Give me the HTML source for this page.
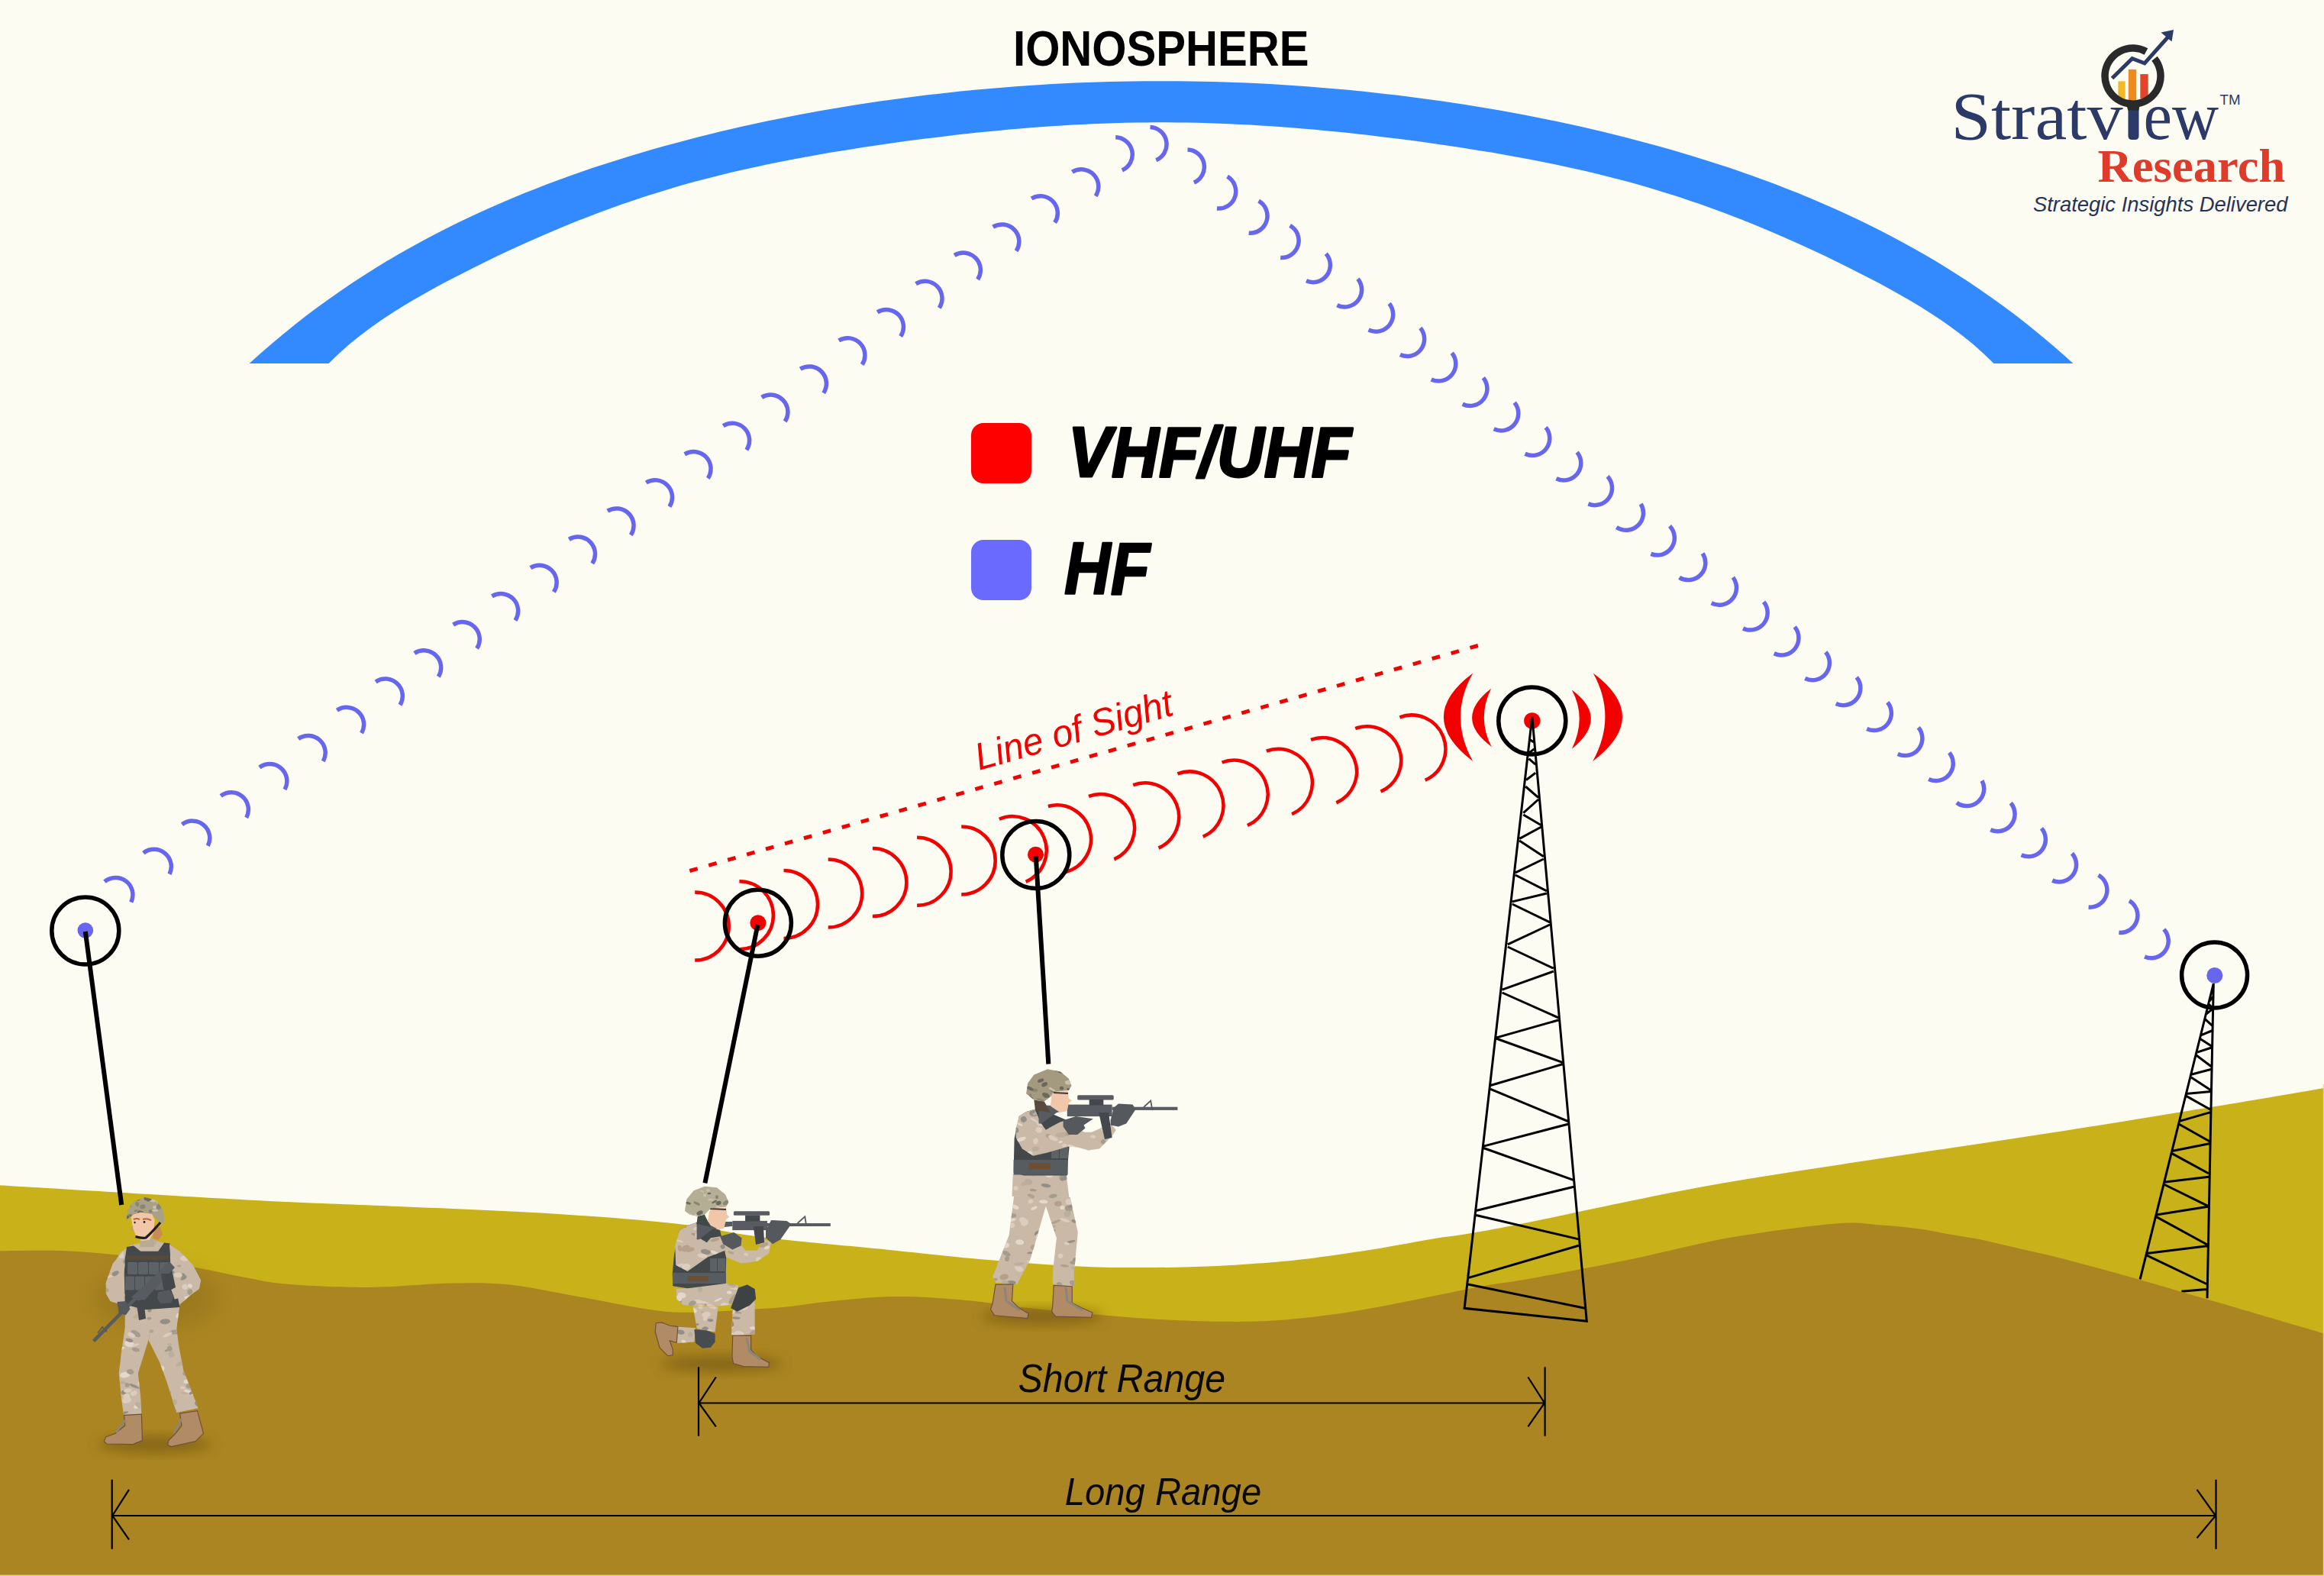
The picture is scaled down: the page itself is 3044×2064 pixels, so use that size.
<!DOCTYPE html>
<html><head><meta charset="utf-8"><title>HF vs VHF/UHF</title>
<style>html,body{margin:0;padding:0;background:#FDFCF3;overflow:hidden;width:3044px;height:2064px;} svg{display:block;}</style></head>
<body>
<svg width="3044" height="2064" viewBox="0 0 3044 2064">
<defs>
<filter id="blur8" x="-50%" y="-50%" width="200%" height="200%"><feGaussianBlur stdDeviation="8"/></filter>
<filter id="blur14" x="-50%" y="-50%" width="200%" height="200%"><feGaussianBlur stdDeviation="14"/></filter>
</defs>
<rect width="3044" height="2064" fill="#FDFCF3"/>
<path d="M326.6 476 L341.6 462.5 L356.7 449.5 L371.7 436.9 L386.7 424.8 L401.7 413.1 L416.8 401.8 L431.8 390.9 L446.8 380.4 L461.8 370.2 L476.9 360.4 L491.9 351 L506.9 341.8 L521.9 333 L537 324.4 L552 316.2 L567 308.2 L582 300.4 L597 293 L612.1 285.7 L627.1 278.7 L642.1 271.9 L657.1 265.4 L672.2 259 L687.2 252.8 L702.2 246.9 L717.2 241.1 L732.3 235.5 L747.3 230 L762.3 224.7 L777.3 219.6 L792.4 214.7 L807.4 209.9 L822.4 205.2 L837.4 200.7 L852.4 196.3 L867.5 192 L882.5 187.9 L897.5 183.9 L912.5 180 L927.6 176.2 L942.6 172.6 L957.6 169 L972.6 165.6 L987.7 162.3 L1002.7 159.1 L1017.7 156 L1032.7 153 L1047.8 150.1 L1062.8 147.3 L1077.8 144.6 L1092.8 142 L1107.8 139.5 L1122.9 137.1 L1137.9 134.8 L1152.9 132.6 L1167.9 130.4 L1183 128.4 L1198 126.5 L1213 124.6 L1228 122.9 L1243.1 121.2 L1258.1 119.6 L1273.1 118.1 L1288.1 116.7 L1303.2 115.4 L1318.2 114.2 L1333.2 113 L1348.2 112 L1363.3 111 L1378.3 110.1 L1393.3 109.3 L1408.3 108.6 L1423.3 108 L1438.4 107.5 L1453.4 107.1 L1468.4 106.7 L1483.4 106.5 L1498.5 106.3 L1513.5 106.2 L1528.5 106.2 L1543.5 106.3 L1558.6 106.5 L1573.6 106.7 L1588.6 107.1 L1603.6 107.5 L1618.7 108 L1633.7 108.6 L1648.7 109.3 L1663.7 110.1 L1678.7 111 L1693.8 112 L1708.8 113 L1723.8 114.2 L1738.8 115.4 L1753.9 116.7 L1768.9 118.1 L1783.9 119.6 L1798.9 121.2 L1814 122.9 L1829 124.6 L1844 126.5 L1859 128.4 L1874.1 130.4 L1889.1 132.6 L1904.1 134.8 L1919.1 137.1 L1934.2 139.5 L1949.2 142 L1964.2 144.6 L1979.2 147.3 L1994.2 150.1 L2009.3 153 L2024.3 156 L2039.3 159.1 L2054.3 162.3 L2069.4 165.6 L2084.4 169 L2099.4 172.6 L2114.4 176.2 L2129.5 180 L2144.5 183.9 L2159.5 187.9 L2174.5 192 L2189.6 196.3 L2204.6 200.7 L2219.6 205.2 L2234.6 209.9 L2249.6 214.7 L2264.7 219.6 L2279.7 224.7 L2294.7 230 L2309.7 235.5 L2324.8 241.1 L2339.8 246.9 L2354.8 252.8 L2369.8 259 L2384.9 265.4 L2399.9 271.9 L2414.9 278.7 L2429.9 285.7 L2445 293 L2460 300.4 L2475 308.2 L2490 316.2 L2505 324.4 L2520.1 333 L2535.1 341.8 L2550.1 351 L2565.1 360.4 L2580.2 370.2 L2595.2 380.4 L2610.2 390.9 L2625.2 401.8 L2640.3 413.1 L2655.3 424.8 L2670.3 436.9 L2685.3 449.5 L2700.4 462.5 L2715.4 476 L2715.4 476 L2611.5 476 L2597.7 462.7 L2584 450.6 L2570.3 439.5 L2556.6 429.2 L2542.9 419.5 L2529.2 410.5 L2515.4 401.8 L2501.7 393.6 L2488 385.7 L2474.3 378 L2460.6 370.6 L2446.9 363.4 L2433.1 356.4 L2419.4 349.5 L2405.7 342.7 L2392 336.1 L2378.3 329.6 L2364.6 323.3 L2350.8 317.1 L2337.1 311 L2323.4 305.1 L2309.7 299.3 L2296 293.6 L2282.3 288.1 L2268.5 282.7 L2254.8 277.5 L2241.1 272.5 L2227.4 267.6 L2213.7 262.9 L2200 258.3 L2186.2 253.9 L2172.5 249.7 L2158.8 245.6 L2145.1 241.6 L2131.4 237.8 L2117.7 234.2 L2103.9 230.7 L2090.2 227.3 L2076.5 224 L2062.8 220.9 L2049.1 217.9 L2035.4 215 L2021.6 212.2 L2007.9 209.5 L1994.2 206.9 L1980.5 204.4 L1966.8 202 L1953.1 199.6 L1939.3 197.4 L1925.6 195.2 L1911.9 193 L1898.2 191 L1884.5 189 L1870.8 187 L1857.1 185.1 L1843.3 183.3 L1829.6 181.6 L1815.9 179.9 L1802.2 178.2 L1788.5 176.6 L1774.8 175.1 L1761 173.6 L1747.3 172.2 L1733.6 170.9 L1719.9 169.6 L1706.2 168.4 L1692.5 167.3 L1678.7 166.3 L1665 165.3 L1651.3 164.4 L1637.6 163.6 L1623.9 162.9 L1610.2 162.2 L1596.4 161.7 L1582.7 161.2 L1569 160.8 L1555.3 160.6 L1541.6 160.4 L1527.9 160.3 L1514.1 160.3 L1500.4 160.4 L1486.7 160.6 L1473 160.8 L1459.3 161.2 L1445.6 161.7 L1431.8 162.2 L1418.1 162.9 L1404.4 163.6 L1390.7 164.4 L1377 165.3 L1363.3 166.3 L1349.5 167.3 L1335.8 168.4 L1322.1 169.6 L1308.4 170.9 L1294.7 172.2 L1281 173.6 L1267.2 175.1 L1253.5 176.6 L1239.8 178.2 L1226.1 179.9 L1212.4 181.6 L1198.7 183.3 L1184.9 185.1 L1171.2 187 L1157.5 189 L1143.8 191 L1130.1 193 L1116.4 195.2 L1102.7 197.4 L1088.9 199.6 L1075.2 202 L1061.5 204.4 L1047.8 206.9 L1034.1 209.5 L1020.4 212.2 L1006.6 215 L992.9 217.9 L979.2 220.9 L965.5 224 L951.8 227.3 L938.1 230.7 L924.3 234.2 L910.6 237.8 L896.9 241.6 L883.2 245.6 L869.5 249.7 L855.8 253.9 L842 258.3 L828.3 262.9 L814.6 267.6 L800.9 272.5 L787.2 277.5 L773.5 282.7 L759.7 288.1 L746 293.6 L732.3 299.3 L718.6 305.1 L704.9 311 L691.2 317.1 L677.4 323.3 L663.7 329.6 L650 336.1 L636.3 342.7 L622.6 349.5 L608.9 356.4 L595.1 363.4 L581.4 370.6 L567.7 378 L554 385.7 L540.3 393.6 L526.6 401.8 L512.8 410.5 L499.1 419.5 L485.4 429.2 L471.7 439.5 L458 450.6 L444.3 462.7 L430.5 476 L430.5 476 Z" fill="#338AFE"/>
<text x="1327" y="85.5" font-family="Liberation Sans" font-weight="bold" font-size="65" textLength="387.5" lengthAdjust="spacingAndGlyphs" fill="#000">IONOSPHERE</text>
<!-- legend -->
<rect x="1272" y="554" width="79" height="79" rx="16" fill="#FF0000"/>
<rect x="1272" y="707" width="79" height="79" rx="16" fill="#6A6AFF"/>
<text x="1399" y="623.5" font-family="Liberation Sans" font-weight="bold" font-style="italic" font-size="92" textLength="371" lengthAdjust="spacingAndGlyphs" fill="#000" stroke="#000" stroke-width="3" stroke-linejoin="round">VHF/UHF</text>
<text x="1394" y="777.5" font-family="Liberation Sans" font-weight="bold" font-style="italic" font-size="96" textLength="112" lengthAdjust="spacingAndGlyphs" fill="#000" stroke="#000" stroke-width="2.5" stroke-linejoin="round">HF</text>
<!-- ground -->
<path d="M0 1552.3 C14.3 1553.2 28.7 1554.1 86 1557.5 C143.3 1560.9 272.3 1568.8 344 1572.5 C415.7 1576.2 458.6 1577.3 516 1579.8 C573.4 1582.3 638.2 1584.9 688.5 1587.6 C738.8 1590.3 781.8 1593.3 817.6 1596.2 C853.5 1599.1 873.2 1600.8 903.6 1604.8 C934 1608.8 955.3 1615 1000 1620.5 C1044.7 1626 1121.8 1632.7 1172 1637.7 C1222.2 1642.7 1258 1647 1301 1650.6 C1344 1654.2 1387 1657.8 1430 1659.2 C1473 1660.6 1519.2 1660.2 1559 1659.2 C1598.8 1658.2 1639 1655.2 1668.8 1652.9 C1698.6 1650.6 1714.8 1648.2 1737.7 1645.2 C1760.7 1642.2 1783.5 1638.6 1806.5 1634.9 C1829.5 1631.2 1855.3 1626.1 1875.4 1622.8 C1895.5 1619.5 1906.2 1618.7 1927 1615.1 C1947.8 1611.5 1950.4 1611.3 2000 1601.3 C2049.6 1591.3 2149.7 1568.9 2224.6 1555.2 C2299.5 1541.5 2374.3 1530.9 2449.2 1519.3 C2524.1 1507.7 2598.9 1497.2 2673.8 1485.6 C2748.7 1474 2836.8 1459.7 2898.5 1449.6 C2960.2 1439.5 3019.8 1429.1 3044 1425 L3044 2064 L0 2064 Z" fill="#C9B119"/>
<!-- small tower (behind brown hill) -->
<path d="M2899.3 1288 L2803.1 1675.3 M2899.3 1288 L2891 1700.2 M2897 1296 L2899 1300 M2899 1305 L2894 1311 M2893 1315 L2899 1321 M2898.6 1320.9 L2888.5 1329.2 M2888.5 1334.9 L2898 1343.7 M2898 1349.5 L2881.5 1356.4 M2881.5 1360.2 L2897.4 1370.4 M2897.4 1371.7 L2876.4 1378.6 M2876.4 1381.8 L2896.7 1397 M2896.7 1400.2 L2870.1 1407.2 M2870.1 1411 L2896.1 1428.1 M2896.1 1429.4 L2863.1 1432.6 M2863.1 1435.1 L2895.4 1453.3 M2894.5 1456.9 L2854.6 1468.4 M2853.7 1472 L2894.5 1495 M2893.7 1497.7 L2844.8 1507.5 M2843.9 1510.1 L2892.8 1536.8 M2892.8 1541.2 L2834.2 1548.3 M2834.2 1551 L2891.9 1579.4 M2891.9 1580.3 L2824.4 1591 M2824.4 1593.6 L2891 1630 M2891 1631.8 L2812 1641.6 M2812 1644.2 L2890.1 1681.5 M2890.1 1688.6 L2857.3 1691.3" stroke="#000" stroke-width="3" fill="none"/>
<path d="M0 1638.3 C14.3 1638.3 57.3 1637.1 86 1638.3 C114.7 1639.5 144.7 1642.3 172 1645.7 C199.3 1649.1 224.1 1654 250 1658.8 C275.9 1663.6 306 1670.4 327.5 1674.3 C349 1678.2 353.3 1680.1 379.1 1682 C404.9 1683.9 448 1686.1 482.4 1685.9 C516.8 1685.7 555.6 1681.4 585.7 1680.7 C615.8 1680 637.3 1679.6 663.1 1682 C688.9 1684.4 709.5 1689.4 740.6 1694.9 C771.8 1700.4 822.1 1711 850 1715 C877.9 1719 884.6 1718.8 907.7 1718.7 C930.8 1718.6 968.2 1715.7 988.6 1714.5 C1009 1713.3 1013.8 1713.2 1030 1711.5 C1046.2 1709.8 1062.3 1706.7 1086 1704.4 C1109.7 1702.2 1143.3 1698.4 1172 1698 C1200.7 1697.6 1230.4 1699.9 1258 1702.2 C1285.6 1704.5 1310.1 1708.9 1337.7 1711.9 C1365.3 1715 1395.1 1717.9 1423.8 1720.5 C1452.5 1723.1 1480.4 1725.7 1509.8 1727.4 C1539.2 1729.1 1573.5 1730.5 1600 1730.8 C1626.5 1731.1 1645.8 1730.9 1668.8 1729.5 C1691.8 1728.1 1714.8 1725.6 1737.7 1722.6 C1760.7 1719.6 1783.5 1715.7 1806.5 1711.5 C1829.5 1707.3 1852.5 1702.3 1875.4 1697.7 C1898.4 1693.1 1923.4 1687.6 1944.2 1683.9 C1965 1680.2 1968.2 1681 2000 1675.3 C2031.8 1669.6 2089.9 1658.7 2134.8 1649.5 C2179.7 1640.3 2224.6 1628.1 2269.5 1620.3 C2314.4 1612.5 2371.8 1605 2404.3 1602.4 C2436.8 1599.8 2445.8 1603.3 2464.5 1604.5 C2483.2 1605.7 2501.1 1607.7 2516.2 1609.7 C2531.3 1611.8 2542 1614.5 2554.9 1616.8 C2567.8 1619.1 2580.7 1620.7 2593.6 1623.3 C2606.5 1625.9 2614.6 1628.2 2632.3 1632.3 C2650 1636.4 2671.4 1640.8 2700 1648.1 C2728.6 1655.4 2771.5 1667.2 2803.6 1676.2 C2835.7 1685.2 2852.3 1690.4 2892.4 1702.1 C2932.5 1713.8 3018.7 1739.1 3044 1746.5 L3044 2064 L0 2064 Z" fill="#AB8522"/>
<rect x="3042.8" y="1420" width="1.2" height="644" fill="#E6D38A"/>
<rect x="0" y="2062.6" width="3044" height="1.4" fill="#E6D38A"/>
<!-- HF waves -->
<path d="M137 1154.6 A22.5 22.5 0 0 1 171.7 1181.6 M187.8 1117.2 A22.5 22.5 0 0 1 222 1144.7 M238.5 1079.8 A22.5 22.5 0 0 1 272.3 1107.8 M289.2 1042.4 A22.5 22.5 0 0 1 322.7 1070.9 M339.9 1005 A22.5 22.5 0 0 1 373 1034 M390.7 967.6 A22.5 22.5 0 0 1 423.3 997 M441.4 930.3 A22.5 22.5 0 0 1 473.6 960.1 M492.1 892.9 A22.5 22.5 0 0 1 524 923.2 M542.9 855.5 A22.5 22.5 0 0 1 574.3 886.2 M593.6 818.1 A22.5 22.5 0 0 1 624.6 849.3 M644.4 780.8 A22.5 22.5 0 0 1 674.9 812.4 M694.9 743.6 A22.5 22.5 0 0 1 725.4 775.2 M745.3 706.4 A22.5 22.5 0 0 1 775.8 738 M795.8 669.2 A22.5 22.5 0 0 1 826.3 700.8 M846.3 632 A22.5 22.5 0 0 1 876.8 663.6 M896.8 594.8 A22.5 22.5 0 0 1 927.3 626.4 M947.2 557.6 A22.5 22.5 0 0 1 977.8 589.2 M997.7 520.4 A22.5 22.5 0 0 1 1028.2 552 M1048.2 483.2 A22.5 22.5 0 0 1 1078.7 514.8 M1098.7 446 A22.5 22.5 0 0 1 1129.2 477.6 M1149.2 408.8 A22.5 22.5 0 0 1 1179.7 440.4 M1199.6 371.6 A22.5 22.5 0 0 1 1230.2 403.2 M1250.1 334.4 A22.5 22.5 0 0 1 1280.6 366 M1300.6 297.2 A22.5 22.5 0 0 1 1331.1 328.8 M1351.1 260 A22.5 22.5 0 0 1 1381.6 291.6 M1404.4 225.2 A22.5 22.5 0 0 1 1435 256.8 M1461.2 179.8 A22.5 22.5 0 0 1 1469.8 222.9 M1506.5 166.5 A22.5 22.5 0 0 1 1514.3 209.7 M1555.5 196 A22.5 22.5 0 0 1 1563.9 239.1 M1607.6 231.2 A22.5 22.5 0 0 1 1594 273 M1648.6 263.2 A22.5 22.5 0 0 1 1635.7 305.2 M1689.6 295.3 A22.5 22.5 0 0 1 1677.2 337.4 M1736.8 332.3 A22.5 22.5 0 0 1 1711 367.8 M1778.5 365.2 A22.5 22.5 0 0 1 1751.4 399.8 M1819.6 397.5 A22.5 22.5 0 0 1 1792.6 432.1 M1860.4 429.6 A22.5 22.5 0 0 1 1834 464.6 M1901.7 462.3 A22.5 22.5 0 0 1 1874.7 496.9 M1942.8 494.7 A22.5 22.5 0 0 1 1915.7 529.3 M1983.7 527.2 A22.5 22.5 0 0 1 1956.7 561.8 M2024.7 559.7 A22.5 22.5 0 0 1 1997.6 594.3 M2065.6 592.2 A22.5 22.5 0 0 1 2038.5 626.8 M2105.6 623.9 A22.5 22.5 0 0 1 2080.4 659.9 M2149.1 660 A22.5 22.5 0 0 1 2117.4 690.5 M2187 688.9 A22.5 22.5 0 0 1 2162.4 725.4 M2230.1 724.7 A22.5 22.5 0 0 1 2199.6 756.3 M2269.9 756.2 A22.5 22.5 0 0 1 2241.7 789.8 M2310.1 788.3 A22.5 22.5 0 0 1 2283.1 822.9 M2350.7 821.1 A22.5 22.5 0 0 1 2323.7 855.8 M2391.3 854 A22.5 22.5 0 0 1 2364.3 888.6 M2431.8 886.9 A22.5 22.5 0 0 1 2404.8 921.5 M2472.3 919.8 A22.5 22.5 0 0 1 2445.3 954.4 M2512.8 952.8 A22.5 22.5 0 0 1 2485.8 987.4 M2553.2 985.8 A22.5 22.5 0 0 1 2526.2 1020.4 M2596 1022.4 A22.5 22.5 0 0 1 2562.9 1051.2 M2633.7 1051.6 A22.5 22.5 0 0 1 2607.3 1086.7 M2674 1084.7 A22.5 22.5 0 0 1 2647.6 1119.8 M2714 1117.6 A22.5 22.5 0 0 1 2688.2 1153.1 M2748.5 1146.1 A22.5 22.5 0 0 1 2735.6 1188.1 M2789 1179.6 A22.5 22.5 0 0 1 2775.4 1221.3 M2834.3 1217 A22.5 22.5 0 0 1 2809.1 1253" stroke="#6666EE" stroke-width="5.5" fill="none"/>
<!-- red waves -->
<path d="M910.2 1168.6 A44.5 44.5 0 0 1 910.2 1257.6 M968.4 1154.2 A44.5 44.5 0 0 1 968.4 1243.2 M1026.5 1139.9 A44.5 44.5 0 0 1 1026.5 1228.9 M1084.7 1125.5 A44.5 44.5 0 0 1 1084.7 1214.5 M1142.9 1111.1 A44.5 44.5 0 0 1 1142.9 1200.1 M1201.1 1096.8 A44.5 44.5 0 0 1 1201.1 1185.8 M1259.2 1082.4 A44.5 44.5 0 0 1 1259.2 1171.4 M1308.8 1072.7 A44.5 44.5 0 0 1 1343.6 1154.7 M1372.9 1056 A44.5 44.5 0 0 1 1396 1142 M1426 1042.9 A44.5 44.5 0 0 1 1459.3 1125.4 M1484.2 1028.1 A44.5 44.5 0 0 1 1517.5 1110.6 M1542.4 1013.3 A44.5 44.5 0 0 1 1575.7 1095.8 M1600.6 998.5 A44.5 44.5 0 0 1 1633.9 1081 M1658.8 983.7 A44.5 44.5 0 0 1 1692.1 1066.2 M1717 968.9 A44.5 44.5 0 0 1 1750.3 1051.4 M1775.2 954.1 A44.5 44.5 0 0 1 1808.5 1036.6 M1833.4 939.3 A44.5 44.5 0 0 1 1866.7 1021.8" stroke="#F30000" stroke-width="4.5" fill="none"/>
<path d="M1929.3 881.5 Q1852.5 938.7 1929.3 997.1 Q1896.7 938.7 1929.3 881.5 Z M1953.1 901.8 Q1902.8 940.6 1953.7 977.9 Q1934.2 940.6 1953.1 901.8 Z M2058.8 903.6 Q2108.8 940.4 2058.8 980.8 Q2078.6 940.4 2058.8 903.6 Z M2086.7 881.5 Q2163.6 938.7 2086.1 997.1 Q2118.4 938.7 2086.7 881.5 Z" fill="#F30000"/>
<!-- dotted line of sight -->
<line x1="903.3" y1="1140.5" x2="1935.9" y2="845.5" stroke="#F30000" stroke-width="5" stroke-dasharray="10.8 15.13"/>
<text transform="translate(1282.6 1009.1) rotate(-15.9)" font-family="Liberation Sans" font-style="italic" font-size="50" textLength="267" lengthAdjust="spacingAndGlyphs" fill="#F30000">Line of Sight</text>
<!-- circles & lines -->
<g stroke="#000" stroke-width="5.5" fill="none">
<circle cx="111.8" cy="1219" r="44"/>
<circle cx="992.9" cy="1208.7" r="43.5"/>
<circle cx="1356.8" cy="1119.5" r="44"/>
<circle cx="2006.8" cy="943.9" r="44"/>
<circle cx="2900.6" cy="1277" r="43"/>
</g>
<g fill="#6666EE"><circle cx="111.8" cy="1218.5" r="10.3"/><circle cx="2900.8" cy="1277.5" r="10.5"/></g>
<g fill="#F30000"><circle cx="992.9" cy="1208.7" r="10.5"/><circle cx="1356.5" cy="1119.2" r="10.5"/><circle cx="2006.8" cy="943.9" r="10.7"/></g>
<!-- big tower -->
<path d="M2006.8 939 L1918.1 1713.3 L2078.3 1730.2 Z M2003.6 968.6 L2009.4 972.1 M2009.4 980.8 L2003.6 985.5 M2002.5 993.6 L2011.2 1001.2 M2011.2 1012.2 L1999 1021.5 M1998.2 1030 L2015 1044.6 M2015 1047 L1995.3 1064.6 M1995.3 1067 L2018.7 1080.8 M2018.7 1083 L1990.2 1098.4 M1990.2 1101 L2021.8 1121.8 M2021.8 1125 L1984.9 1142.8 M1984.9 1146 L2025.9 1166.9 M2025.9 1170 L1980.8 1180.9 M1980.8 1184 L2030 1207.9 M2030 1211 L1974.8 1236.9 M1974.8 1240 L2034.8 1268.2 M2034.8 1272 L1967.6 1296.2 M1967.6 1300 L2041.1 1332.8 M2041.1 1336 L1960.3 1358.9 M1959.6 1360 L2046.4 1391.4 M2046.4 1393.8 L1952.4 1421.5 M1952.4 1426.3 L2053.7 1468.5 M2053.7 1472.2 L1943.2 1501.1 M1943.2 1503.5 L2061.4 1545.7 M2061.4 1554.2 L1933.5 1585.5 M1933.5 1591.5 L2067.7 1622.9 M2067.7 1631.3 L1922.9 1673.6 M1922.9 1682 L2075.8 1713.3" stroke="#000" stroke-width="3" fill="none" stroke-linejoin="miter"/>
<g stroke="#000" stroke-width="6" stroke-linecap="butt">
<line x1="111.8" y1="1220" x2="159.2" y2="1578"/>
<line x1="992.5" y1="1211" x2="923.4" y2="1549.4"/>
<line x1="1356.8" y1="1121" x2="1373.3" y2="1393.5"/>
</g>
<!-- soldiers -->
<g>
<ellipse cx="203" cy="1892" rx="75" ry="10" fill="#6A500C" opacity="0.6" filter="url(#blur8)"/>
<ellipse cx="205" cy="1700" rx="80" ry="40" fill="#7E6414" opacity="0.35" filter="url(#blur14)"/>
<clipPath id="cl1"><polygon points="163.7,1739.1 159.1,1770.0 155.7,1798.5 159.1,1832.8 162.0,1853.3 185.4,1852.8 184.2,1829.4 180.8,1798.5 194.5,1755.1 198.0,1739.0"/><polygon points="194.5,1755.1 209.4,1784.8 218.5,1809.9 231.1,1849.9 259.6,1844.2 240.2,1794.0 234.5,1764.3 231.1,1739.1 198.0,1739.0"/><polygon points="163.7,1707.0 163.7,1741.0 231.1,1741.0 235.0,1707.0"/></clipPath><polygon points="163.7,1739.1 159.1,1770.0 155.7,1798.5 159.1,1832.8 162.0,1853.3 185.4,1852.8 184.2,1829.4 180.8,1798.5 194.5,1755.1 198.0,1739.0" fill="#C9B9A6"/><polygon points="194.5,1755.1 209.4,1784.8 218.5,1809.9 231.1,1849.9 259.6,1844.2 240.2,1794.0 234.5,1764.3 231.1,1739.1 198.0,1739.0" fill="#C9B9A6"/><polygon points="163.7,1707.0 163.7,1741.0 231.1,1741.0 235.0,1707.0" fill="#C9B9A6"/><g clip-path="url(#cl1)"><ellipse cx="202.7" cy="1788.9" rx="6.7" ry="2.6" transform="rotate(21 202.7 1788.9)" fill="#B5A08C"/><ellipse cx="175.4" cy="1824.6" rx="4.6" ry="3.1" transform="rotate(-24 175.4 1824.6)" fill="#DCCDBE"/><ellipse cx="187.2" cy="1720.3" rx="6.1" ry="3.3" transform="rotate(6 187.2 1720.3)" fill="#DCCDBE"/><ellipse cx="196.9" cy="1773.3" rx="5.8" ry="3.2" transform="rotate(-29 196.9 1773.3)" fill="#B5A08C"/><ellipse cx="210.6" cy="1715.7" rx="3.4" ry="2.0" transform="rotate(17 210.6 1715.7)" fill="#DCCDBE"/><ellipse cx="189.6" cy="1793.5" rx="3.4" ry="1.9" transform="rotate(-0 189.6 1793.5)" fill="#A59C8E"/><ellipse cx="224.5" cy="1773.9" rx="3.8" ry="4.2" transform="rotate(-25 224.5 1773.9)" fill="#BBAE9C"/><ellipse cx="182.1" cy="1817.9" rx="4.8" ry="1.3" transform="rotate(16 182.1 1817.9)" fill="#B5A08C"/><ellipse cx="197.3" cy="1830.9" rx="4.2" ry="4.1" transform="rotate(11 197.3 1830.9)" fill="#BBAE9C"/><ellipse cx="177.9" cy="1842.6" rx="2.7" ry="2.4" transform="rotate(-6 177.9 1842.6)" fill="#E4D8CA"/><ellipse cx="163.3" cy="1799.1" rx="6.0" ry="2.0" transform="rotate(-11 163.3 1799.1)" fill="#DCCDBE"/><ellipse cx="157.3" cy="1767.0" rx="6.7" ry="1.6" transform="rotate(-24 157.3 1767.0)" fill="#E4D8CA"/><ellipse cx="161.9" cy="1823.6" rx="3.3" ry="2.9" transform="rotate(1 161.9 1823.6)" fill="#948F84"/><ellipse cx="258.1" cy="1819.6" rx="4.4" ry="2.4" transform="rotate(-5 258.1 1819.6)" fill="#948F84"/><ellipse cx="177.8" cy="1746.5" rx="6.9" ry="3.6" transform="rotate(30 177.8 1746.5)" fill="#A59C8E"/><ellipse cx="157.7" cy="1734.4" rx="7.0" ry="3.0" transform="rotate(-24 157.7 1734.4)" fill="#B5A08C"/><ellipse cx="258.5" cy="1738.2" rx="3.7" ry="3.5" transform="rotate(20 258.5 1738.2)" fill="#A59C8E"/><ellipse cx="195.8" cy="1717.9" rx="3.4" ry="3.1" transform="rotate(6 195.8 1717.9)" fill="#DCCDBE"/><ellipse cx="194.3" cy="1773.3" rx="6.8" ry="2.7" transform="rotate(-22 194.3 1773.3)" fill="#B5A08C"/><ellipse cx="195.8" cy="1798.8" rx="3.9" ry="1.9" transform="rotate(-15 195.8 1798.8)" fill="#B5A08C"/><ellipse cx="175.4" cy="1815.2" rx="6.7" ry="1.8" transform="rotate(23 175.4 1815.2)" fill="#948F84"/><ellipse cx="218.4" cy="1768.7" rx="3.0" ry="1.4" transform="rotate(-16 218.4 1768.7)" fill="#A59C8E"/><ellipse cx="228.9" cy="1744.6" rx="6.2" ry="3.0" transform="rotate(1 228.9 1744.6)" fill="#A59C8E"/><ellipse cx="252.2" cy="1850.0" rx="3.1" ry="2.7" transform="rotate(21 252.2 1850.0)" fill="#E4D8CA"/><ellipse cx="219.5" cy="1748.0" rx="6.6" ry="1.9" transform="rotate(-26 219.5 1748.0)" fill="#DCCDBE"/><ellipse cx="198.4" cy="1743.4" rx="2.7" ry="2.1" transform="rotate(4 198.4 1743.4)" fill="#B5A08C"/><ellipse cx="169.4" cy="1760.0" rx="6.5" ry="4.1" transform="rotate(14 169.4 1760.0)" fill="#E4D8CA"/><ellipse cx="209.9" cy="1845.5" rx="5.2" ry="4.0" transform="rotate(25 209.9 1845.5)" fill="#948F84"/><ellipse cx="228.5" cy="1847.9" rx="2.6" ry="3.1" transform="rotate(-26 228.5 1847.9)" fill="#948F84"/><ellipse cx="188.0" cy="1727.0" rx="2.8" ry="2.6" transform="rotate(14 188.0 1727.0)" fill="#A59C8E"/><ellipse cx="249.2" cy="1814.8" rx="5.7" ry="3.6" transform="rotate(-9 249.2 1814.8)" fill="#A59C8E"/><ellipse cx="226.9" cy="1838.8" rx="6.4" ry="2.5" transform="rotate(-28 226.9 1838.8)" fill="#BBAE9C"/><ellipse cx="207.6" cy="1709.1" rx="5.5" ry="2.4" transform="rotate(7 207.6 1709.1)" fill="#DCCDBE"/><ellipse cx="164.0" cy="1800.5" rx="7.0" ry="3.8" transform="rotate(-10 164.0 1800.5)" fill="#E4D8CA"/><ellipse cx="252.8" cy="1808.6" rx="4.6" ry="2.6" transform="rotate(-25 252.8 1808.6)" fill="#B5A08C"/><ellipse cx="233.6" cy="1711.4" rx="5.2" ry="2.7" transform="rotate(27 233.6 1711.4)" fill="#DCCDBE"/><ellipse cx="167.4" cy="1821.1" rx="5.5" ry="2.7" transform="rotate(-8 167.4 1821.1)" fill="#DCCDBE"/><ellipse cx="170.6" cy="1796.5" rx="4.8" ry="3.5" transform="rotate(10 170.6 1796.5)" fill="#A59C8E"/><ellipse cx="201.6" cy="1837.5" rx="4.0" ry="3.2" transform="rotate(8 201.6 1837.5)" fill="#DCCDBE"/><ellipse cx="239.2" cy="1817.4" rx="3.4" ry="1.9" transform="rotate(5 239.2 1817.4)" fill="#DCCDBE"/><ellipse cx="188.6" cy="1726.9" rx="4.7" ry="3.7" transform="rotate(-28 188.6 1726.9)" fill="#BBAE9C"/><ellipse cx="162.4" cy="1850.4" rx="6.2" ry="1.6" transform="rotate(-13 162.4 1850.4)" fill="#948F84"/><ellipse cx="177.9" cy="1767.6" rx="5.3" ry="2.7" transform="rotate(13 177.9 1767.6)" fill="#A59C8E"/><ellipse cx="243.2" cy="1798.4" rx="3.9" ry="3.7" transform="rotate(22 243.2 1798.4)" fill="#A59C8E"/><ellipse cx="160.0" cy="1810.7" rx="5.1" ry="2.2" transform="rotate(4 160.0 1810.7)" fill="#BBAE9C"/><ellipse cx="222.3" cy="1766.3" rx="3.4" ry="3.5" transform="rotate(-16 222.3 1766.3)" fill="#A59C8E"/><ellipse cx="170.3" cy="1713.9" rx="5.3" ry="2.6" transform="rotate(2 170.3 1713.9)" fill="#E4D8CA"/><ellipse cx="222.2" cy="1760.9" rx="2.9" ry="1.8" transform="rotate(-1 222.2 1760.9)" fill="#BBAE9C"/><ellipse cx="174.3" cy="1708.6" rx="4.6" ry="3.4" transform="rotate(-16 174.3 1708.6)" fill="#DCCDBE"/><ellipse cx="236.6" cy="1786.0" rx="6.8" ry="2.7" transform="rotate(-20 236.6 1786.0)" fill="#BBAE9C"/><ellipse cx="243.9" cy="1809.4" rx="3.5" ry="2.5" transform="rotate(-7 243.9 1809.4)" fill="#E4D8CA"/><ellipse cx="202.5" cy="1735.8" rx="6.5" ry="1.3" transform="rotate(4 202.5 1735.8)" fill="#B5A08C"/><ellipse cx="247.1" cy="1823.6" rx="6.7" ry="2.6" transform="rotate(29 247.1 1823.6)" fill="#E4D8CA"/><ellipse cx="166.0" cy="1833.7" rx="6.1" ry="4.0" transform="rotate(-17 166.0 1833.7)" fill="#DCCDBE"/><ellipse cx="249.2" cy="1850.4" rx="6.9" ry="2.8" transform="rotate(26 249.2 1850.4)" fill="#BBAE9C"/><ellipse cx="182.9" cy="1812.1" rx="2.6" ry="2.7" transform="rotate(-4 182.9 1812.1)" fill="#DCCDBE"/><ellipse cx="212.9" cy="1819.4" rx="4.7" ry="1.3" transform="rotate(22 212.9 1819.4)" fill="#BBAE9C"/><ellipse cx="200.3" cy="1712.1" rx="4.9" ry="3.3" transform="rotate(-2 200.3 1712.1)" fill="#DCCDBE"/><ellipse cx="259.6" cy="1838.8" rx="4.8" ry="3.2" transform="rotate(27 259.6 1838.8)" fill="#948F84"/><ellipse cx="206.9" cy="1845.9" rx="2.9" ry="1.9" transform="rotate(4 206.9 1845.9)" fill="#B5A08C"/><ellipse cx="242.1" cy="1789.2" rx="3.2" ry="2.8" transform="rotate(-15 242.1 1789.2)" fill="#B5A08C"/><ellipse cx="225.4" cy="1846.7" rx="6.4" ry="3.0" transform="rotate(21 225.4 1846.7)" fill="#A59C8E"/><ellipse cx="256.3" cy="1783.7" rx="5.1" ry="1.8" transform="rotate(-23 256.3 1783.7)" fill="#B5A08C"/><ellipse cx="156.2" cy="1762.2" rx="4.9" ry="1.4" transform="rotate(3 156.2 1762.2)" fill="#948F84"/><ellipse cx="258.5" cy="1724.8" rx="2.9" ry="1.7" transform="rotate(-2 258.5 1724.8)" fill="#B5A08C"/><ellipse cx="251.4" cy="1824.1" rx="4.3" ry="2.0" transform="rotate(-22 251.4 1824.1)" fill="#948F84"/><ellipse cx="200.8" cy="1826.3" rx="6.6" ry="2.7" transform="rotate(-23 200.8 1826.3)" fill="#A59C8E"/><ellipse cx="199.3" cy="1711.3" rx="3.7" ry="3.3" transform="rotate(-28 199.3 1711.3)" fill="#DCCDBE"/><ellipse cx="171.9" cy="1708.7" rx="3.8" ry="3.4" transform="rotate(7 171.9 1708.7)" fill="#DCCDBE"/><ellipse cx="166.6" cy="1813.9" rx="3.1" ry="2.8" transform="rotate(13 166.6 1813.9)" fill="#A59C8E"/><ellipse cx="228.6" cy="1835.6" rx="2.6" ry="3.1" transform="rotate(2 228.6 1835.6)" fill="#BBAE9C"/><ellipse cx="172.3" cy="1736.9" rx="5.3" ry="3.1" transform="rotate(-17 172.3 1736.9)" fill="#B5A08C"/><ellipse cx="212.1" cy="1792.8" rx="3.1" ry="3.9" transform="rotate(19 212.1 1792.8)" fill="#E4D8CA"/><ellipse cx="249.5" cy="1753.2" rx="3.9" ry="4.0" transform="rotate(17 249.5 1753.2)" fill="#DCCDBE"/><ellipse cx="175.9" cy="1721.2" rx="6.5" ry="1.6" transform="rotate(-14 175.9 1721.2)" fill="#DCCDBE"/><ellipse cx="165.8" cy="1828.7" rx="4.4" ry="3.6" transform="rotate(-18 165.8 1828.7)" fill="#DCCDBE"/><ellipse cx="220.9" cy="1823.9" rx="2.9" ry="2.9" transform="rotate(25 220.9 1823.9)" fill="#A59C8E"/><ellipse cx="256.3" cy="1723.9" rx="4.8" ry="3.5" transform="rotate(30 256.3 1723.9)" fill="#B5A08C"/><ellipse cx="242.2" cy="1824.5" rx="4.7" ry="1.3" transform="rotate(3 242.2 1824.5)" fill="#BBAE9C"/><ellipse cx="209.2" cy="1790.2" rx="3.2" ry="1.8" transform="rotate(-20 209.2 1790.2)" fill="#DCCDBE"/><ellipse cx="172.1" cy="1748.4" rx="5.5" ry="3.0" transform="rotate(27 172.1 1748.4)" fill="#DCCDBE"/><ellipse cx="203.7" cy="1818.9" rx="4.0" ry="2.6" transform="rotate(-9 203.7 1818.9)" fill="#B5A08C"/><ellipse cx="177.5" cy="1761.6" rx="5.4" ry="1.4" transform="rotate(-19 177.5 1761.6)" fill="#DCCDBE"/><ellipse cx="202.9" cy="1815.2" rx="4.3" ry="1.8" transform="rotate(-24 202.9 1815.2)" fill="#DCCDBE"/><ellipse cx="238.0" cy="1754.4" rx="2.9" ry="3.7" transform="rotate(25 238.0 1754.4)" fill="#BBAE9C"/><ellipse cx="253.3" cy="1790.3" rx="3.4" ry="3.0" transform="rotate(18 253.3 1790.3)" fill="#A59C8E"/><ellipse cx="182.5" cy="1840.3" rx="5.8" ry="3.5" transform="rotate(26 182.5 1840.3)" fill="#BBAE9C"/><ellipse cx="169.5" cy="1755.3" rx="4.9" ry="2.3" transform="rotate(16 169.5 1755.3)" fill="#948F84"/><ellipse cx="197.9" cy="1812.7" rx="2.8" ry="2.3" transform="rotate(-24 197.9 1812.7)" fill="#948F84"/><ellipse cx="248.0" cy="1851.9" rx="6.6" ry="1.4" transform="rotate(27 248.0 1851.9)" fill="#A59C8E"/></g>
<polygon points="162.5,1853.3 163.7,1867.0 151.1,1877.3 138.6,1881.9 136.3,1887.6 139.7,1891.0 174.0,1891.6 186.5,1886.5 185.4,1852.2" fill="#B08B66" stroke="#6F5139" stroke-width="1.2"/>
<polygon points="235.6,1851.1 237.9,1867.0 229.9,1877.3 220.8,1886.5 219.6,1892.2 224.2,1894.5 256.2,1887.6 266.5,1877.3 258.5,1847.6" fill="#B08B66" stroke="#6F5139" stroke-width="1.2"/>
<path d="M164 1860 L152 1876 M238 1858 L228 1876" stroke="#8C857A" stroke-width="3"/>
<clipPath id="cl2"><polygon points="171.1,1630.8 158.0,1640.0 147.7,1657.1 139.7,1679.9 138.6,1693.6 144.3,1703.9 154.5,1707.3 163.7,1707.3 166.0,1740.0 231.1,1740.0 235.6,1708.5 247.0,1698.2 260.8,1687.9 263.0,1676.5 252.8,1657.1 235.6,1640.0 220.8,1629.7 201.4,1624.0"/></clipPath><polygon points="171.1,1630.8 158.0,1640.0 147.7,1657.1 139.7,1679.9 138.6,1693.6 144.3,1703.9 154.5,1707.3 163.7,1707.3 166.0,1740.0 231.1,1740.0 235.6,1708.5 247.0,1698.2 260.8,1687.9 263.0,1676.5 252.8,1657.1 235.6,1640.0 220.8,1629.7 201.4,1624.0" fill="#C9B9A6"/><g clip-path="url(#cl2)"><ellipse cx="197.6" cy="1700.3" rx="5.5" ry="1.7" transform="rotate(30 197.6 1700.3)" fill="#DCCDBE"/><ellipse cx="198.6" cy="1698.6" rx="4.6" ry="3.8" transform="rotate(3 198.6 1698.6)" fill="#DCCDBE"/><ellipse cx="220.9" cy="1640.9" rx="4.5" ry="1.7" transform="rotate(-26 220.9 1640.9)" fill="#DCCDBE"/><ellipse cx="240.5" cy="1632.7" rx="5.6" ry="2.2" transform="rotate(18 240.5 1632.7)" fill="#948F84"/><ellipse cx="149.5" cy="1730.6" rx="6.2" ry="3.2" transform="rotate(-25 149.5 1730.6)" fill="#DCCDBE"/><ellipse cx="261.4" cy="1733.8" rx="3.0" ry="2.5" transform="rotate(2 261.4 1733.8)" fill="#DCCDBE"/><ellipse cx="248.3" cy="1688.7" rx="6.9" ry="3.9" transform="rotate(-20 248.3 1688.7)" fill="#B5A08C"/><ellipse cx="240.1" cy="1670.5" rx="4.4" ry="3.0" transform="rotate(7 240.1 1670.5)" fill="#948F84"/><ellipse cx="205.9" cy="1698.3" rx="2.9" ry="1.8" transform="rotate(10 205.9 1698.3)" fill="#BBAE9C"/><ellipse cx="182.9" cy="1666.1" rx="5.6" ry="3.2" transform="rotate(-15 182.9 1666.1)" fill="#DCCDBE"/><ellipse cx="180.3" cy="1667.1" rx="5.1" ry="3.5" transform="rotate(-28 180.3 1667.1)" fill="#DCCDBE"/><ellipse cx="240.9" cy="1673.9" rx="4.8" ry="1.9" transform="rotate(-27 240.9 1673.9)" fill="#948F84"/><ellipse cx="164.0" cy="1694.4" rx="5.9" ry="1.9" transform="rotate(12 164.0 1694.4)" fill="#DCCDBE"/><ellipse cx="143.2" cy="1656.1" rx="4.0" ry="3.1" transform="rotate(1 143.2 1656.1)" fill="#DCCDBE"/><ellipse cx="184.4" cy="1663.4" rx="4.6" ry="3.3" transform="rotate(-1 184.4 1663.4)" fill="#BBAE9C"/><ellipse cx="257.5" cy="1643.4" rx="6.7" ry="2.3" transform="rotate(16 257.5 1643.4)" fill="#DCCDBE"/><ellipse cx="166.0" cy="1694.4" rx="6.8" ry="4.0" transform="rotate(-9 166.0 1694.4)" fill="#BBAE9C"/><ellipse cx="168.7" cy="1625.0" rx="2.7" ry="3.1" transform="rotate(30 168.7 1625.0)" fill="#A59C8E"/><ellipse cx="201.2" cy="1626.8" rx="4.0" ry="3.6" transform="rotate(-13 201.2 1626.8)" fill="#BBAE9C"/><ellipse cx="153.3" cy="1715.0" rx="4.8" ry="2.7" transform="rotate(-14 153.3 1715.0)" fill="#A59C8E"/><ellipse cx="256.4" cy="1727.7" rx="3.2" ry="2.1" transform="rotate(-27 256.4 1727.7)" fill="#BBAE9C"/><ellipse cx="179.7" cy="1724.0" rx="5.4" ry="2.6" transform="rotate(-17 179.7 1724.0)" fill="#BBAE9C"/><ellipse cx="174.1" cy="1653.6" rx="5.6" ry="3.3" transform="rotate(3 174.1 1653.6)" fill="#DCCDBE"/><ellipse cx="171.7" cy="1640.1" rx="3.4" ry="2.6" transform="rotate(4 171.7 1640.1)" fill="#DCCDBE"/><ellipse cx="216.3" cy="1730.7" rx="6.8" ry="3.5" transform="rotate(-4 216.3 1730.7)" fill="#948F84"/><ellipse cx="150.2" cy="1670.9" rx="3.4" ry="2.9" transform="rotate(8 150.2 1670.9)" fill="#A59C8E"/><ellipse cx="186.5" cy="1642.7" rx="5.6" ry="1.7" transform="rotate(18 186.5 1642.7)" fill="#DCCDBE"/><ellipse cx="250.2" cy="1729.6" rx="4.9" ry="3.6" transform="rotate(18 250.2 1729.6)" fill="#948F84"/><ellipse cx="227.0" cy="1645.9" rx="3.7" ry="3.6" transform="rotate(2 227.0 1645.9)" fill="#E4D8CA"/><ellipse cx="216.0" cy="1638.5" rx="4.9" ry="3.3" transform="rotate(5 216.0 1638.5)" fill="#948F84"/><ellipse cx="147.5" cy="1665.3" rx="2.9" ry="2.2" transform="rotate(-25 147.5 1665.3)" fill="#E4D8CA"/><ellipse cx="177.5" cy="1704.7" rx="5.9" ry="3.2" transform="rotate(-8 177.5 1704.7)" fill="#948F84"/><ellipse cx="142.3" cy="1680.6" rx="4.5" ry="1.8" transform="rotate(6 142.3 1680.6)" fill="#E4D8CA"/><ellipse cx="195.4" cy="1726.6" rx="2.9" ry="1.9" transform="rotate(-8 195.4 1726.6)" fill="#A59C8E"/><ellipse cx="244.2" cy="1703.9" rx="3.8" ry="2.8" transform="rotate(0 244.2 1703.9)" fill="#DCCDBE"/><ellipse cx="225.4" cy="1642.8" rx="4.6" ry="3.0" transform="rotate(12 225.4 1642.8)" fill="#BBAE9C"/><ellipse cx="195.8" cy="1715.1" rx="2.7" ry="3.5" transform="rotate(2 195.8 1715.1)" fill="#948F84"/><ellipse cx="233.3" cy="1669.9" rx="5.5" ry="3.2" transform="rotate(3 233.3 1669.9)" fill="#DCCDBE"/><ellipse cx="223.3" cy="1664.6" rx="5.8" ry="2.2" transform="rotate(24 223.3 1664.6)" fill="#948F84"/><ellipse cx="217.3" cy="1643.8" rx="4.6" ry="3.6" transform="rotate(-15 217.3 1643.8)" fill="#DCCDBE"/><ellipse cx="144.3" cy="1717.2" rx="3.8" ry="4.0" transform="rotate(-13 144.3 1717.2)" fill="#B5A08C"/><ellipse cx="239.7" cy="1715.6" rx="5.2" ry="1.7" transform="rotate(8 239.7 1715.6)" fill="#A59C8E"/><ellipse cx="243.4" cy="1694.6" rx="6.0" ry="2.5" transform="rotate(10 243.4 1694.6)" fill="#B5A08C"/><ellipse cx="180.9" cy="1713.2" rx="4.7" ry="4.0" transform="rotate(18 180.9 1713.2)" fill="#BBAE9C"/><ellipse cx="159.7" cy="1647.8" rx="3.6" ry="4.1" transform="rotate(23 159.7 1647.8)" fill="#B5A08C"/><ellipse cx="246.6" cy="1699.7" rx="5.8" ry="3.4" transform="rotate(25 246.6 1699.7)" fill="#E4D8CA"/><ellipse cx="234.5" cy="1723.6" rx="3.9" ry="3.8" transform="rotate(23 234.5 1723.6)" fill="#E4D8CA"/><ellipse cx="141.7" cy="1659.8" rx="2.6" ry="1.8" transform="rotate(-18 141.7 1659.8)" fill="#DCCDBE"/><ellipse cx="239.2" cy="1731.5" rx="6.9" ry="3.5" transform="rotate(22 239.2 1731.5)" fill="#B5A08C"/><ellipse cx="214.1" cy="1635.9" rx="5.6" ry="2.8" transform="rotate(-24 214.1 1635.9)" fill="#948F84"/></g>
<polygon points="166.0,1633.1 175.1,1631.4 184.2,1638.8 207.1,1638.8 215.1,1627.4 222.5,1628.5 223.1,1653.7 235.6,1711.9 190.0,1715.3 163.7,1708.5 162.5,1657.1" fill="#43484B"/>
<rect x="166" y="1644.5" width="57" height="5" fill="#5A4A3A"/>
<g fill="#5C6266"><rect x="167.0" y="1653" width="13" height="16" rx="1.5"/><rect x="181.0" y="1653" width="13" height="16" rx="1.5"/><rect x="195.0" y="1653" width="13" height="16" rx="1.5"/><rect x="209.0" y="1653" width="13" height="16" rx="1.5"/><rect x="164.0" y="1671.5" width="12" height="18" rx="1.5"/><rect x="177.0" y="1671.5" width="12" height="18" rx="1.5"/><rect x="190.0" y="1671.5" width="12" height="18" rx="1.5"/><rect x="203.0" y="1671.5" width="12" height="18" rx="1.5"/></g>
<clipPath id="cl3"><polygon points="161.4,1638.8 147.7,1654.8 138.6,1679.9 139.1,1694.8 146.5,1705.0 155.7,1707.3 163.7,1697.0 160.3,1679.9 163.7,1657.1"/><polygon points="221.9,1629.7 235.6,1638.8 252.8,1657.1 263.0,1676.5 260.8,1687.9 247.0,1697.0 228.8,1701.6 224.2,1689.0 241.3,1679.9 244.8,1671.9 234.5,1660.5 224.2,1651.4"/></clipPath><polygon points="161.4,1638.8 147.7,1654.8 138.6,1679.9 139.1,1694.8 146.5,1705.0 155.7,1707.3 163.7,1697.0 160.3,1679.9 163.7,1657.1" fill="#C9B9A6"/><polygon points="221.9,1629.7 235.6,1638.8 252.8,1657.1 263.0,1676.5 260.8,1687.9 247.0,1697.0 228.8,1701.6 224.2,1689.0 241.3,1679.9 244.8,1671.9 234.5,1660.5 224.2,1651.4" fill="#C9B9A6"/><g clip-path="url(#cl3)"><ellipse cx="170.8" cy="1682.9" rx="5.6" ry="3.8" transform="rotate(9 170.8 1682.9)" fill="#DCCDBE"/><ellipse cx="221.5" cy="1697.2" rx="5.4" ry="1.8" transform="rotate(2 221.5 1697.2)" fill="#DCCDBE"/><ellipse cx="165.2" cy="1652.6" rx="4.4" ry="3.7" transform="rotate(30 165.2 1652.6)" fill="#B5A08C"/><ellipse cx="262.1" cy="1694.4" rx="2.9" ry="3.6" transform="rotate(-14 262.1 1694.4)" fill="#BBAE9C"/><ellipse cx="194.7" cy="1663.6" rx="3.1" ry="3.8" transform="rotate(21 194.7 1663.6)" fill="#A59C8E"/><ellipse cx="199.2" cy="1688.3" rx="5.0" ry="2.5" transform="rotate(23 199.2 1688.3)" fill="#A59C8E"/><ellipse cx="218.0" cy="1680.5" rx="4.1" ry="3.0" transform="rotate(29 218.0 1680.5)" fill="#E4D8CA"/><ellipse cx="224.6" cy="1672.7" rx="5.9" ry="1.6" transform="rotate(14 224.6 1672.7)" fill="#E4D8CA"/><ellipse cx="205.3" cy="1652.5" rx="3.3" ry="2.3" transform="rotate(-2 205.3 1652.5)" fill="#A59C8E"/><ellipse cx="213.9" cy="1660.4" rx="3.1" ry="2.7" transform="rotate(4 213.9 1660.4)" fill="#DCCDBE"/><ellipse cx="248.9" cy="1684.1" rx="3.1" ry="2.5" transform="rotate(27 248.9 1684.1)" fill="#E4D8CA"/><ellipse cx="187.1" cy="1685.5" rx="6.7" ry="1.4" transform="rotate(-0 187.1 1685.5)" fill="#DCCDBE"/><ellipse cx="225.4" cy="1664.2" rx="3.6" ry="3.4" transform="rotate(22 225.4 1664.2)" fill="#E4D8CA"/><ellipse cx="248.8" cy="1692.0" rx="3.4" ry="3.8" transform="rotate(1 248.8 1692.0)" fill="#A59C8E"/><ellipse cx="220.3" cy="1699.7" rx="5.7" ry="2.0" transform="rotate(-17 220.3 1699.7)" fill="#948F84"/><ellipse cx="215.4" cy="1674.8" rx="5.2" ry="2.3" transform="rotate(4 215.4 1674.8)" fill="#E4D8CA"/><ellipse cx="161.3" cy="1644.7" rx="6.0" ry="2.9" transform="rotate(-20 161.3 1644.7)" fill="#DCCDBE"/><ellipse cx="192.0" cy="1675.9" rx="6.1" ry="3.3" transform="rotate(20 192.0 1675.9)" fill="#948F84"/><ellipse cx="218.8" cy="1670.6" rx="3.1" ry="2.2" transform="rotate(-12 218.8 1670.6)" fill="#948F84"/><ellipse cx="172.1" cy="1676.0" rx="2.8" ry="2.6" transform="rotate(21 172.1 1676.0)" fill="#A59C8E"/><ellipse cx="143.1" cy="1654.5" rx="3.2" ry="2.9" transform="rotate(1 143.1 1654.5)" fill="#B5A08C"/><ellipse cx="197.6" cy="1681.7" rx="3.8" ry="1.3" transform="rotate(13 197.6 1681.7)" fill="#B5A08C"/><ellipse cx="158.1" cy="1641.1" rx="4.4" ry="3.7" transform="rotate(-14 158.1 1641.1)" fill="#DCCDBE"/><ellipse cx="211.7" cy="1657.3" rx="3.6" ry="2.1" transform="rotate(8 211.7 1657.3)" fill="#DCCDBE"/><ellipse cx="191.5" cy="1654.3" rx="4.6" ry="1.5" transform="rotate(6 191.5 1654.3)" fill="#DCCDBE"/><ellipse cx="139.1" cy="1689.8" rx="3.4" ry="2.7" transform="rotate(-7 139.1 1689.8)" fill="#B5A08C"/><ellipse cx="146.2" cy="1670.7" rx="6.8" ry="1.7" transform="rotate(-23 146.2 1670.7)" fill="#DCCDBE"/><ellipse cx="241.0" cy="1646.6" rx="3.9" ry="2.4" transform="rotate(-9 241.0 1646.6)" fill="#DCCDBE"/><ellipse cx="151.0" cy="1667.8" rx="5.1" ry="3.0" transform="rotate(-27 151.0 1667.8)" fill="#948F84"/><ellipse cx="205.2" cy="1639.7" rx="6.1" ry="2.2" transform="rotate(14 205.2 1639.7)" fill="#B5A08C"/><ellipse cx="250.9" cy="1699.1" rx="6.6" ry="3.3" transform="rotate(-1 250.9 1699.1)" fill="#DCCDBE"/><ellipse cx="184.8" cy="1656.5" rx="6.1" ry="1.9" transform="rotate(-16 184.8 1656.5)" fill="#E4D8CA"/><ellipse cx="241.6" cy="1648.2" rx="6.0" ry="3.5" transform="rotate(4 241.6 1648.2)" fill="#DCCDBE"/><ellipse cx="215.8" cy="1694.9" rx="6.5" ry="1.6" transform="rotate(27 215.8 1694.9)" fill="#DCCDBE"/><ellipse cx="233.1" cy="1658.5" rx="4.3" ry="1.7" transform="rotate(-12 233.1 1658.5)" fill="#B5A08C"/><ellipse cx="149.4" cy="1633.7" rx="2.6" ry="3.4" transform="rotate(1 149.4 1633.7)" fill="#DCCDBE"/><ellipse cx="172.3" cy="1636.8" rx="4.0" ry="3.1" transform="rotate(7 172.3 1636.8)" fill="#DCCDBE"/><ellipse cx="242.2" cy="1685.3" rx="3.8" ry="3.5" transform="rotate(-24 242.2 1685.3)" fill="#DCCDBE"/><ellipse cx="189.1" cy="1659.8" rx="4.3" ry="1.7" transform="rotate(-3 189.1 1659.8)" fill="#DCCDBE"/><ellipse cx="139.1" cy="1632.0" rx="3.7" ry="2.2" transform="rotate(27 139.1 1632.0)" fill="#DCCDBE"/></g>
<path d="M122.6 1756.3 L223 1654" stroke="#585B61" stroke-width="4.5"/>
<polygon points="172.0,1699.0 214.0,1660.0 223.1,1653.7 229.0,1660.0 220.0,1670.0 186.0,1706.0" fill="#585B61"/>
<polygon points="211.0,1668.0 226.0,1668.0 224.0,1684.0 214.0,1688.0" fill="#44474C"/>
<polygon points="178.5,1704.0 188.0,1702.0 191.0,1727.0 182.0,1729.0" fill="#44474C"/>
<path d="M128 1746 L134 1738 L140 1744" stroke="#585B61" stroke-width="2" fill="none"/>
<polygon points="207.1,1692.5 221.9,1689.0 227.6,1697.0 224.2,1706.2 210.5,1707.3 205.9,1700.5" fill="#55595D"/>
<polygon points="153.4,1705.0 164.8,1703.9 170.5,1714.2 164.8,1722.2 155.7,1719.9" fill="#55595D"/>
<polygon points="184.0,1622.0 183.0,1633.0 202.0,1633.0 201.0,1621.0" fill="#B9AA93"/>
<polygon points="201.4,1603.4 210.5,1608.0 212.8,1617.1 207.1,1624.0 200.2,1621.7" fill="#C98B55"/>
<polygon points="171.7,1594.3 174.0,1608.0 178.5,1619.4 185.4,1625.1 195.7,1624.0 201.4,1613.7 202.5,1597.7 199.1,1589.7 184.2,1587.4 174.0,1590.8" fill="#F2C6A8"/>
<path d="M175 1597 Q179 1595 183 1597 M187 1597 Q192 1595 198 1598" stroke="#B8663A" stroke-width="2" fill="none"/><circle cx="176.5" cy="1601" r="1.2" fill="#222"/><circle cx="189" cy="1600.5" r="1.4" fill="#222"/><path d="M174 1606 L172 1610 L175 1611" stroke="#C99474" stroke-width="1.2" fill="none"/>
<clipPath id="cl4"><polygon points="165.6,1597.7 167.1,1585.1 175.1,1573.7 189.9,1568.0 203.6,1571.4 212.8,1582.8 215.6,1596.5 213.4,1603.4 205.9,1597.7 199.1,1589.7 184.2,1587.4 174.0,1590.8"/></clipPath><polygon points="165.6,1597.7 167.1,1585.1 175.1,1573.7 189.9,1568.0 203.6,1571.4 212.8,1582.8 215.6,1596.5 213.4,1603.4 205.9,1597.7 199.1,1589.7 184.2,1587.4 174.0,1590.8" fill="#A9A089"/><g clip-path="url(#cl4)"><ellipse cx="170.9" cy="1592.9" rx="4.0" ry="2.9" transform="rotate(14 170.9 1592.9)" fill="#8B8571"/><ellipse cx="180.2" cy="1570.6" rx="3.3" ry="1.9" transform="rotate(-6 180.2 1570.6)" fill="#6A695C"/><ellipse cx="211.0" cy="1577.3" rx="4.6" ry="1.6" transform="rotate(-8 211.0 1577.3)" fill="#8B8571"/><ellipse cx="197.2" cy="1586.3" rx="2.5" ry="2.3" transform="rotate(-20 197.2 1586.3)" fill="#8B8571"/><ellipse cx="198.2" cy="1572.4" rx="3.0" ry="1.2" transform="rotate(21 198.2 1572.4)" fill="#C9C1A9"/><ellipse cx="184.7" cy="1588.6" rx="4.8" ry="2.8" transform="rotate(22 184.7 1588.6)" fill="#6A695C"/><ellipse cx="199.9" cy="1571.9" rx="3.8" ry="2.3" transform="rotate(22 199.9 1571.9)" fill="#C9C1A9"/><ellipse cx="203.0" cy="1585.2" rx="4.0" ry="1.5" transform="rotate(-1 203.0 1585.2)" fill="#C9C1A9"/><ellipse cx="179.7" cy="1577.0" rx="2.4" ry="3.0" transform="rotate(-13 179.7 1577.0)" fill="#8B8571"/><ellipse cx="167.0" cy="1594.2" rx="2.3" ry="2.1" transform="rotate(-4 167.0 1594.2)" fill="#6A695C"/><ellipse cx="214.3" cy="1574.0" rx="3.2" ry="1.6" transform="rotate(-4 214.3 1574.0)" fill="#6A695C"/><ellipse cx="195.4" cy="1571.4" rx="3.4" ry="1.5" transform="rotate(-26 195.4 1571.4)" fill="#6A695C"/><ellipse cx="172.8" cy="1592.9" rx="3.7" ry="1.0" transform="rotate(27 172.8 1592.9)" fill="#6A695C"/><ellipse cx="186.8" cy="1580.3" rx="3.7" ry="2.9" transform="rotate(-9 186.8 1580.3)" fill="#8B8571"/><ellipse cx="192.1" cy="1569.5" rx="3.7" ry="2.6" transform="rotate(-7 192.1 1569.5)" fill="#6A695C"/><ellipse cx="167.3" cy="1579.1" rx="4.9" ry="2.2" transform="rotate(1 167.3 1579.1)" fill="#8B8571"/><ellipse cx="205.8" cy="1603.0" rx="2.3" ry="2.9" transform="rotate(-30 205.8 1603.0)" fill="#C9C1A9"/><ellipse cx="178.1" cy="1585.7" rx="2.5" ry="1.4" transform="rotate(-13 178.1 1585.7)" fill="#8B8571"/><ellipse cx="203.7" cy="1581.1" rx="3.7" ry="2.2" transform="rotate(0 203.7 1581.1)" fill="#C9C1A9"/><ellipse cx="207.7" cy="1581.0" rx="3.2" ry="2.9" transform="rotate(-1 207.7 1581.0)" fill="#8B8571"/><ellipse cx="213.2" cy="1569.1" rx="3.9" ry="1.9" transform="rotate(-25 213.2 1569.1)" fill="#8B8571"/><ellipse cx="206.0" cy="1572.6" rx="2.2" ry="2.9" transform="rotate(-14 206.0 1572.6)" fill="#C9C1A9"/></g>
<path d="M177.5 1619.5 Q186 1622 191 1621 Q199 1614 210 1601" stroke="#1E1E1E" stroke-width="3.2" fill="none"/>
</g>
<g>
<ellipse cx="945" cy="1786" rx="80" ry="10" fill="#6A500C" opacity="0.6" filter="url(#blur8)"/>
<clipPath id="cl5"><polygon points="885.5,1688.1 886.3,1701.3 894.5,1708.8 907.7,1710.4 940.7,1710.4 957.2,1708.8 965.5,1694.7 967.1,1683.2 949.0,1680.7 920.1,1681.5 907.7,1686.5"/><polygon points="959.7,1716.2 958.0,1747.5 960.5,1749.2 988.6,1747.5 988.6,1706.3 985.3,1696.4"/><polygon points="907.7,1711.2 912.7,1740.1 936.6,1744.2 940.7,1711.2"/><polygon points="886.3,1737.6 887.1,1759.1 909.4,1757.4 911.0,1739.3"/></clipPath><polygon points="885.5,1688.1 886.3,1701.3 894.5,1708.8 907.7,1710.4 940.7,1710.4 957.2,1708.8 965.5,1694.7 967.1,1683.2 949.0,1680.7 920.1,1681.5 907.7,1686.5" fill="#C9B9A6"/><polygon points="959.7,1716.2 958.0,1747.5 960.5,1749.2 988.6,1747.5 988.6,1706.3 985.3,1696.4" fill="#C9B9A6"/><polygon points="907.7,1711.2 912.7,1740.1 936.6,1744.2 940.7,1711.2" fill="#C9B9A6"/><polygon points="886.3,1737.6 887.1,1759.1 909.4,1757.4 911.0,1739.3" fill="#C9B9A6"/><g clip-path="url(#cl5)"><ellipse cx="902.5" cy="1734.8" rx="5.4" ry="2.7" transform="rotate(29 902.5 1734.8)" fill="#DCCDBE"/><ellipse cx="934.4" cy="1756.2" rx="3.3" ry="2.8" transform="rotate(-30 934.4 1756.2)" fill="#BBAE9C"/><ellipse cx="923.8" cy="1726.6" rx="2.8" ry="3.6" transform="rotate(25 923.8 1726.6)" fill="#DCCDBE"/><ellipse cx="957.0" cy="1714.9" rx="7.0" ry="3.5" transform="rotate(7 957.0 1714.9)" fill="#948F84"/><ellipse cx="889.0" cy="1706.5" rx="4.7" ry="1.6" transform="rotate(-29 889.0 1706.5)" fill="#A59C8E"/><ellipse cx="961.9" cy="1687.6" rx="6.1" ry="1.3" transform="rotate(3 961.9 1687.6)" fill="#DCCDBE"/><ellipse cx="920.9" cy="1718.7" rx="3.3" ry="1.4" transform="rotate(19 920.9 1718.7)" fill="#BBAE9C"/><ellipse cx="893.2" cy="1696.2" rx="5.5" ry="3.6" transform="rotate(15 893.2 1696.2)" fill="#E4D8CA"/><ellipse cx="964.1" cy="1726.2" rx="5.8" ry="1.6" transform="rotate(4 964.1 1726.2)" fill="#948F84"/><ellipse cx="925.5" cy="1707.5" rx="3.2" ry="2.8" transform="rotate(-8 925.5 1707.5)" fill="#A59C8E"/><ellipse cx="932.0" cy="1710.9" rx="7.0" ry="2.4" transform="rotate(20 932.0 1710.9)" fill="#DCCDBE"/><ellipse cx="901.9" cy="1736.8" rx="6.9" ry="1.3" transform="rotate(3 901.9 1736.8)" fill="#DCCDBE"/><ellipse cx="962.6" cy="1698.1" rx="5.2" ry="2.9" transform="rotate(-23 962.6 1698.1)" fill="#B5A08C"/><ellipse cx="954.5" cy="1729.8" rx="6.3" ry="2.2" transform="rotate(6 954.5 1729.8)" fill="#BBAE9C"/><ellipse cx="917.1" cy="1688.8" rx="2.8" ry="3.7" transform="rotate(-4 917.1 1688.8)" fill="#BBAE9C"/><ellipse cx="902.0" cy="1683.6" rx="4.8" ry="3.2" transform="rotate(-6 902.0 1683.6)" fill="#DCCDBE"/><ellipse cx="987.5" cy="1756.1" rx="5.2" ry="3.9" transform="rotate(0 987.5 1756.1)" fill="#948F84"/><ellipse cx="954.3" cy="1754.1" rx="3.6" ry="2.9" transform="rotate(18 954.3 1754.1)" fill="#948F84"/><ellipse cx="965.3" cy="1718.6" rx="6.3" ry="1.4" transform="rotate(10 965.3 1718.6)" fill="#A59C8E"/><ellipse cx="889.1" cy="1700.2" rx="4.3" ry="3.8" transform="rotate(24 889.1 1700.2)" fill="#E4D8CA"/><ellipse cx="986.9" cy="1739.2" rx="4.7" ry="2.0" transform="rotate(2 986.9 1739.2)" fill="#E4D8CA"/><ellipse cx="960.6" cy="1682.9" rx="3.5" ry="3.7" transform="rotate(-21 960.6 1682.9)" fill="#BBAE9C"/><ellipse cx="923.5" cy="1741.3" rx="4.7" ry="3.9" transform="rotate(-12 923.5 1741.3)" fill="#948F84"/><ellipse cx="940.6" cy="1702.3" rx="6.0" ry="1.3" transform="rotate(-22 940.6 1702.3)" fill="#E4D8CA"/><ellipse cx="959.3" cy="1701.4" rx="4.0" ry="2.0" transform="rotate(-5 959.3 1701.4)" fill="#B5A08C"/><ellipse cx="955.9" cy="1739.6" rx="6.2" ry="1.7" transform="rotate(-24 955.9 1739.6)" fill="#DCCDBE"/><ellipse cx="895.2" cy="1682.7" rx="4.5" ry="1.7" transform="rotate(-23 895.2 1682.7)" fill="#BBAE9C"/><ellipse cx="914.5" cy="1704.5" rx="6.7" ry="2.4" transform="rotate(7 914.5 1704.5)" fill="#DCCDBE"/><ellipse cx="904.2" cy="1747.9" rx="3.4" ry="3.4" transform="rotate(-27 904.2 1747.9)" fill="#BBAE9C"/><ellipse cx="958.8" cy="1749.2" rx="6.0" ry="3.6" transform="rotate(-7 958.8 1749.2)" fill="#DCCDBE"/><ellipse cx="974.6" cy="1711.9" rx="5.1" ry="3.8" transform="rotate(-15 974.6 1711.9)" fill="#DCCDBE"/><ellipse cx="957.3" cy="1705.3" rx="2.7" ry="2.4" transform="rotate(14 957.3 1705.3)" fill="#A59C8E"/><ellipse cx="987.6" cy="1744.8" rx="6.1" ry="2.7" transform="rotate(-24 987.6 1744.8)" fill="#B5A08C"/><ellipse cx="947.5" cy="1720.5" rx="5.8" ry="4.1" transform="rotate(-13 947.5 1720.5)" fill="#A59C8E"/><ellipse cx="949.9" cy="1740.1" rx="3.4" ry="3.1" transform="rotate(29 949.9 1740.1)" fill="#A59C8E"/><ellipse cx="922.1" cy="1705.6" rx="7.0" ry="1.6" transform="rotate(9 922.1 1705.6)" fill="#DCCDBE"/><ellipse cx="950.1" cy="1744.0" rx="6.9" ry="2.7" transform="rotate(11 950.1 1744.0)" fill="#DCCDBE"/><ellipse cx="958.3" cy="1717.6" rx="4.8" ry="3.8" transform="rotate(-16 958.3 1717.6)" fill="#DCCDBE"/><ellipse cx="890.5" cy="1714.7" rx="3.6" ry="3.3" transform="rotate(-6 890.5 1714.7)" fill="#BBAE9C"/><ellipse cx="929.5" cy="1743.2" rx="4.3" ry="2.2" transform="rotate(8 929.5 1743.2)" fill="#DCCDBE"/><ellipse cx="984.8" cy="1687.4" rx="4.7" ry="2.7" transform="rotate(6 984.8 1687.4)" fill="#E4D8CA"/><ellipse cx="907.8" cy="1716.0" rx="5.3" ry="3.1" transform="rotate(22 907.8 1716.0)" fill="#E4D8CA"/><ellipse cx="957.6" cy="1734.2" rx="3.6" ry="4.0" transform="rotate(-12 957.6 1734.2)" fill="#948F84"/><ellipse cx="924.9" cy="1721.8" rx="5.7" ry="3.9" transform="rotate(-11 924.9 1721.8)" fill="#DCCDBE"/><ellipse cx="917.6" cy="1711.4" rx="3.2" ry="2.9" transform="rotate(1 917.6 1711.4)" fill="#DCCDBE"/><ellipse cx="949.4" cy="1710.1" rx="5.8" ry="4.1" transform="rotate(12 949.4 1710.1)" fill="#DCCDBE"/><ellipse cx="906.7" cy="1707.0" rx="5.4" ry="3.3" transform="rotate(-25 906.7 1707.0)" fill="#A59C8E"/><ellipse cx="888.4" cy="1721.1" rx="6.8" ry="4.1" transform="rotate(0 888.4 1721.1)" fill="#E4D8CA"/><ellipse cx="910.1" cy="1734.7" rx="5.7" ry="1.7" transform="rotate(-2 910.1 1734.7)" fill="#948F84"/><ellipse cx="930.5" cy="1729.1" rx="3.8" ry="1.8" transform="rotate(7 930.5 1729.1)" fill="#948F84"/><ellipse cx="895.7" cy="1757.2" rx="3.5" ry="2.3" transform="rotate(26 895.7 1757.2)" fill="#E4D8CA"/><ellipse cx="958.1" cy="1682.2" rx="4.8" ry="1.4" transform="rotate(-4 958.1 1682.2)" fill="#B5A08C"/><ellipse cx="931.9" cy="1758.4" rx="6.7" ry="1.7" transform="rotate(-19 931.9 1758.4)" fill="#A59C8E"/><ellipse cx="923.7" cy="1680.9" rx="3.2" ry="2.9" transform="rotate(-4 923.7 1680.9)" fill="#BBAE9C"/><ellipse cx="972.2" cy="1704.9" rx="4.4" ry="3.9" transform="rotate(-16 972.2 1704.9)" fill="#DCCDBE"/><ellipse cx="968.2" cy="1746.8" rx="6.7" ry="3.9" transform="rotate(10 968.2 1746.8)" fill="#DCCDBE"/><ellipse cx="893.0" cy="1714.9" rx="6.2" ry="4.2" transform="rotate(-19 893.0 1714.9)" fill="#E4D8CA"/><ellipse cx="891.6" cy="1744.6" rx="5.2" ry="3.1" transform="rotate(11 891.6 1744.6)" fill="#948F84"/><ellipse cx="955.2" cy="1692.7" rx="3.2" ry="2.1" transform="rotate(8 955.2 1692.7)" fill="#E4D8CA"/><ellipse cx="977.3" cy="1686.3" rx="2.8" ry="2.8" transform="rotate(20 977.3 1686.3)" fill="#E4D8CA"/></g>
<polygon points="957.2,1712.9 967.1,1686.5 978.7,1682.4 988.6,1688.1 990.2,1701.3 982.0,1709.6 965.5,1717.8" fill="#3D4245"/>
<polygon points="909.4,1740.9 911.0,1759.1 920.1,1765.7 930.8,1764.8 936.6,1757.4 936.6,1746.7 925.9,1742.6" fill="#474C50"/>
<polygon points="859.1,1732.7 858.2,1744.2 864.0,1764.9 874.7,1775.6 881.3,1774.8 881.3,1767.3 877.2,1755.8 886.3,1758.3 887.9,1737.6 877.2,1736.0 866.5,1731.9" fill="#B08B66" stroke="#6F5139" stroke-width="1.2"/>
<polygon points="959.7,1749.2 958.9,1777.2 960.5,1785.5 973.7,1789.6 1006.7,1790.4 1007.5,1784.6 990.2,1775.6 983.6,1767.3 983.6,1749.2" fill="#B08B66" stroke="#6F5139" stroke-width="1.2"/>
<path d="M978 1752 L982 1770 L996 1780" stroke="#8C857A" stroke-width="3" fill="none"/>
<polygon points="883.2,1641.5 880.7,1667.9 881.2,1684.2 900.5,1687.2 950.2,1681.1 951.2,1647.6 943.1,1611.1 930.9,1607.0 912.6,1600.9 900.5,1605.0 890.3,1611.1" fill="#43484B"/>
<rect x="881" y="1667" width="70" height="14" fill="#565C60"/><rect x="901" y="1671" width="27" height="7" fill="#6E4E33"/>
<g fill="#5C6266"><rect x="930" y="1648" width="9" height="17"/><rect x="940" y="1648" width="10" height="17"/></g>
<clipPath id="cl6"><polygon points="890.3,1611.1 884.2,1631.4 885.2,1656.8 900.5,1664.9 926.9,1646.6 950.2,1637.5 951.2,1646.6 971.5,1654.7 991.8,1651.7 1007.1,1641.5 1010.1,1626.3 999.9,1623.2 991.8,1637.5 976.6,1637.5 971.5,1631.4 961.4,1626.3 943.1,1619.2 930.9,1621.2 925.8,1627.3 915.7,1621.2 912.6,1600.9 900.5,1605.0"/></clipPath><polygon points="890.3,1611.1 884.2,1631.4 885.2,1656.8 900.5,1664.9 926.9,1646.6 950.2,1637.5 951.2,1646.6 971.5,1654.7 991.8,1651.7 1007.1,1641.5 1010.1,1626.3 999.9,1623.2 991.8,1637.5 976.6,1637.5 971.5,1631.4 961.4,1626.3 943.1,1619.2 930.9,1621.2 925.8,1627.3 915.7,1621.2 912.6,1600.9 900.5,1605.0" fill="#C9B9A6"/><g clip-path="url(#cl6)"><ellipse cx="1004.8" cy="1609.9" rx="2.6" ry="4.2" transform="rotate(12 1004.8 1609.9)" fill="#DCCDBE"/><ellipse cx="977.3" cy="1657.1" rx="6.1" ry="1.5" transform="rotate(28 977.3 1657.1)" fill="#A59C8E"/><ellipse cx="924.4" cy="1639.4" rx="6.7" ry="3.3" transform="rotate(12 924.4 1639.4)" fill="#948F84"/><ellipse cx="890.3" cy="1657.3" rx="5.2" ry="2.2" transform="rotate(-19 890.3 1657.3)" fill="#DCCDBE"/><ellipse cx="898.2" cy="1634.9" rx="5.8" ry="4.1" transform="rotate(-26 898.2 1634.9)" fill="#B5A08C"/><ellipse cx="925.3" cy="1622.3" rx="3.3" ry="2.4" transform="rotate(22 925.3 1622.3)" fill="#BBAE9C"/><ellipse cx="1004.6" cy="1633.9" rx="3.8" ry="2.0" transform="rotate(-19 1004.6 1633.9)" fill="#E4D8CA"/><ellipse cx="890.4" cy="1634.9" rx="2.6" ry="4.0" transform="rotate(-13 890.4 1634.9)" fill="#B5A08C"/><ellipse cx="995.3" cy="1626.3" rx="6.7" ry="1.8" transform="rotate(-8 995.3 1626.3)" fill="#B5A08C"/><ellipse cx="957.5" cy="1619.9" rx="5.2" ry="2.9" transform="rotate(15 957.5 1619.9)" fill="#948F84"/><ellipse cx="997.4" cy="1628.2" rx="2.9" ry="2.6" transform="rotate(-4 997.4 1628.2)" fill="#DCCDBE"/><ellipse cx="934.9" cy="1660.4" rx="6.8" ry="2.8" transform="rotate(-30 934.9 1660.4)" fill="#948F84"/><ellipse cx="942.0" cy="1613.3" rx="2.6" ry="2.4" transform="rotate(-10 942.0 1613.3)" fill="#DCCDBE"/><ellipse cx="929.2" cy="1613.1" rx="2.7" ry="2.8" transform="rotate(17 929.2 1613.1)" fill="#BBAE9C"/><ellipse cx="977.2" cy="1642.9" rx="3.0" ry="1.8" transform="rotate(20 977.2 1642.9)" fill="#DCCDBE"/><ellipse cx="1000.2" cy="1630.4" rx="6.3" ry="2.7" transform="rotate(-22 1000.2 1630.4)" fill="#B5A08C"/><ellipse cx="920.0" cy="1644.7" rx="6.4" ry="2.7" transform="rotate(9 920.0 1644.7)" fill="#DCCDBE"/><ellipse cx="928.7" cy="1651.1" rx="6.2" ry="3.0" transform="rotate(-29 928.7 1651.1)" fill="#DCCDBE"/><ellipse cx="947.2" cy="1641.5" rx="4.0" ry="1.8" transform="rotate(6 947.2 1641.5)" fill="#E4D8CA"/><ellipse cx="972.3" cy="1612.2" rx="2.8" ry="1.8" transform="rotate(-23 972.3 1612.2)" fill="#E4D8CA"/><ellipse cx="911.4" cy="1617.2" rx="6.4" ry="1.8" transform="rotate(15 911.4 1617.2)" fill="#A59C8E"/><ellipse cx="957.3" cy="1640.5" rx="4.3" ry="1.6" transform="rotate(20 957.3 1640.5)" fill="#B5A08C"/><ellipse cx="889.0" cy="1625.1" rx="6.3" ry="1.3" transform="rotate(15 889.0 1625.1)" fill="#DCCDBE"/><ellipse cx="964.1" cy="1604.0" rx="5.6" ry="2.5" transform="rotate(-15 964.1 1604.0)" fill="#A59C8E"/><ellipse cx="913.3" cy="1617.9" rx="2.8" ry="3.2" transform="rotate(-19 913.3 1617.9)" fill="#DCCDBE"/><ellipse cx="1005.3" cy="1621.3" rx="2.6" ry="1.7" transform="rotate(-27 1005.3 1621.3)" fill="#A59C8E"/><ellipse cx="945.5" cy="1602.8" rx="5.9" ry="1.3" transform="rotate(19 945.5 1602.8)" fill="#E4D8CA"/><ellipse cx="941.2" cy="1643.2" rx="4.5" ry="2.5" transform="rotate(-9 941.2 1643.2)" fill="#A59C8E"/><ellipse cx="993.0" cy="1653.2" rx="2.5" ry="2.4" transform="rotate(-24 993.0 1653.2)" fill="#E4D8CA"/><ellipse cx="990.7" cy="1662.0" rx="5.3" ry="3.2" transform="rotate(21 990.7 1662.0)" fill="#A59C8E"/><ellipse cx="948.8" cy="1613.0" rx="3.7" ry="1.7" transform="rotate(18 948.8 1613.0)" fill="#BBAE9C"/><ellipse cx="946.6" cy="1632.9" rx="3.1" ry="2.8" transform="rotate(-6 946.6 1632.9)" fill="#948F84"/><ellipse cx="994.3" cy="1649.6" rx="4.2" ry="3.2" transform="rotate(12 994.3 1649.6)" fill="#DCCDBE"/><ellipse cx="895.0" cy="1659.8" rx="4.0" ry="1.4" transform="rotate(28 895.0 1659.8)" fill="#B5A08C"/><ellipse cx="903.4" cy="1636.6" rx="6.4" ry="3.0" transform="rotate(-11 903.4 1636.6)" fill="#B5A08C"/><ellipse cx="980.7" cy="1608.2" rx="4.8" ry="1.4" transform="rotate(20 980.7 1608.2)" fill="#E4D8CA"/><ellipse cx="896.6" cy="1605.2" rx="3.3" ry="2.7" transform="rotate(25 896.6 1605.2)" fill="#A59C8E"/><ellipse cx="936.1" cy="1640.7" rx="5.8" ry="2.2" transform="rotate(27 936.1 1640.7)" fill="#E4D8CA"/><ellipse cx="975.7" cy="1658.6" rx="6.1" ry="3.2" transform="rotate(11 975.7 1658.6)" fill="#A59C8E"/><ellipse cx="884.6" cy="1616.4" rx="3.0" ry="2.2" transform="rotate(26 884.6 1616.4)" fill="#DCCDBE"/><ellipse cx="898.4" cy="1658.9" rx="6.2" ry="4.0" transform="rotate(-1 898.4 1658.9)" fill="#DCCDBE"/><ellipse cx="936.4" cy="1623.6" rx="6.2" ry="2.2" transform="rotate(-16 936.4 1623.6)" fill="#B5A08C"/><ellipse cx="962.4" cy="1659.2" rx="6.6" ry="2.6" transform="rotate(1 962.4 1659.2)" fill="#A59C8E"/><ellipse cx="911.6" cy="1609.1" rx="3.6" ry="2.2" transform="rotate(-3 911.6 1609.1)" fill="#DCCDBE"/><ellipse cx="916.6" cy="1616.5" rx="3.2" ry="2.9" transform="rotate(18 916.6 1616.5)" fill="#A59C8E"/></g>
<polygon points="912.6,1599.9 959.3,1599.9 959.3,1606.0 948.2,1607.0 932.9,1610.0 915.7,1623.2 912.6,1623.2" fill="#585B61"/>
<rect x="959.3" y="1598.9" width="45.7" height="12.2" fill="#585B61"/>
<polygon points="986.8,1606.0 1000.0,1606.0 1001.0,1627.3 990.0,1630.0" fill="#44474C"/>
<rect x="1005" y="1602" width="82.8" height="4" fill="#585B61"/>
<rect x="960.9" y="1586.2" width="47.2" height="5.6" rx="1.5" fill="#585B61"/><rect x="976.1" y="1591.5" width="19.3" height="8" fill="#44474C"/>
<path d="M1044.6 1602 L1054.3 1593.3 L1055.8 1603" stroke="#585B61" stroke-width="1.8" fill="none"/>
<polygon points="943.1,1619.2 961.4,1614.1 971.5,1621.2 970.5,1631.4 959.3,1636.4 947.2,1629.3" fill="#55595D"/>
<polygon points="1003.0,1611.1 1010.1,1597.9 1030.4,1598.9 1036.5,1602.9 1022.3,1623.2 1012.1,1629.3 1003.0,1621.2" fill="#55595D"/>
<polygon points="913.7,1592.8 922.8,1590.8 930.9,1607.0 912.6,1603.0" fill="#3F4A45"/>
<polygon points="928.9,1587.7 930.9,1582.6 951.2,1581.6 952.2,1590.8 955.3,1593.8 951.2,1596.9 948.2,1609.0 941.1,1610.0 930.9,1605.0 926.9,1598.9" fill="#F2C6A8"/>
<path d="M930 1583 L951 1584" stroke="#3A3A3A" stroke-width="2"/>
<clipPath id="cl7"><polygon points="896.9,1585.7 899.4,1570.5 908.6,1559.3 922.8,1553.7 939.0,1555.2 950.2,1564.4 954.3,1574.5 951.2,1580.6 930.9,1582.6 922.8,1590.8 913.7,1592.8 903.5,1590.8"/></clipPath><polygon points="896.9,1585.7 899.4,1570.5 908.6,1559.3 922.8,1553.7 939.0,1555.2 950.2,1564.4 954.3,1574.5 951.2,1580.6 930.9,1582.6 922.8,1590.8 913.7,1592.8 903.5,1590.8" fill="#B4AE95"/><g clip-path="url(#cl7)"><ellipse cx="950.0" cy="1590.8" rx="4.7" ry="1.2" transform="rotate(-5 950.0 1590.8)" fill="#8B8571"/><ellipse cx="927.3" cy="1558.8" rx="2.6" ry="1.9" transform="rotate(7 927.3 1558.8)" fill="#C9C1A9"/><ellipse cx="948.7" cy="1557.8" rx="4.9" ry="2.0" transform="rotate(1 948.7 1557.8)" fill="#6A695C"/><ellipse cx="939.0" cy="1567.7" rx="2.2" ry="2.6" transform="rotate(9 939.0 1567.7)" fill="#8B8571"/><ellipse cx="932.5" cy="1591.7" rx="3.1" ry="2.5" transform="rotate(28 932.5 1591.7)" fill="#8B8571"/><ellipse cx="913.0" cy="1591.8" rx="3.7" ry="2.6" transform="rotate(13 913.0 1591.8)" fill="#C9C1A9"/><ellipse cx="930.8" cy="1571.2" rx="3.9" ry="1.4" transform="rotate(2 930.8 1571.2)" fill="#C9C1A9"/><ellipse cx="935.6" cy="1574.0" rx="3.7" ry="1.2" transform="rotate(-28 935.6 1574.0)" fill="#6A695C"/><ellipse cx="912.7" cy="1576.1" rx="4.5" ry="1.7" transform="rotate(24 912.7 1576.1)" fill="#8B8571"/><ellipse cx="928.0" cy="1588.7" rx="3.4" ry="1.4" transform="rotate(-24 928.0 1588.7)" fill="#C9C1A9"/><ellipse cx="941.9" cy="1581.3" rx="4.5" ry="1.5" transform="rotate(25 941.9 1581.3)" fill="#C9C1A9"/><ellipse cx="930.9" cy="1590.7" rx="2.5" ry="3.0" transform="rotate(8 930.9 1590.7)" fill="#6A695C"/><ellipse cx="919.5" cy="1560.1" rx="2.7" ry="1.0" transform="rotate(18 919.5 1560.1)" fill="#C9C1A9"/><ellipse cx="951.4" cy="1574.8" rx="5.0" ry="2.5" transform="rotate(-29 951.4 1574.8)" fill="#8B8571"/><ellipse cx="942.1" cy="1572.9" rx="2.1" ry="1.5" transform="rotate(15 942.1 1572.9)" fill="#C9C1A9"/><ellipse cx="923.2" cy="1565.3" rx="2.3" ry="2.1" transform="rotate(11 923.2 1565.3)" fill="#C9C1A9"/><ellipse cx="928.9" cy="1563.0" rx="2.3" ry="1.3" transform="rotate(-3 928.9 1563.0)" fill="#6A695C"/><ellipse cx="916.6" cy="1588.6" rx="4.4" ry="2.8" transform="rotate(-26 916.6 1588.6)" fill="#6A695C"/><ellipse cx="952.0" cy="1588.8" rx="4.2" ry="2.1" transform="rotate(-5 952.0 1588.8)" fill="#6A695C"/><ellipse cx="941.2" cy="1575.5" rx="3.6" ry="2.7" transform="rotate(-28 941.2 1575.5)" fill="#6A695C"/><ellipse cx="904.9" cy="1591.4" rx="4.2" ry="1.9" transform="rotate(27 904.9 1591.4)" fill="#C9C1A9"/><ellipse cx="901.4" cy="1575.7" rx="3.6" ry="1.5" transform="rotate(18 901.4 1575.7)" fill="#6A695C"/></g>
</g>
<g>
<ellipse cx="1365" cy="1724" rx="80" ry="10" fill="#6A500C" opacity="0.6" filter="url(#blur8)"/>
<clipPath id="cl8"><polygon points="1326.8,1537.5 1325.5,1566.7 1400.4,1568.0 1396.6,1537.5"/><polygon points="1328.1,1566.7 1321.7,1617.5 1311.6,1642.9 1300.2,1672.0 1304.0,1679.7 1331.9,1682.2 1349.6,1649.2 1369.9,1579.4 1385.0,1567.0"/><polygon points="1369.9,1579.4 1378.8,1606.1 1383.9,1621.3 1378.8,1667.0 1378.8,1682.2 1406.8,1684.7 1406.8,1667.0 1411.8,1613.7 1401.7,1568.0 1380.0,1567.0"/></clipPath><polygon points="1326.8,1537.5 1325.5,1566.7 1400.4,1568.0 1396.6,1537.5" fill="#C9B9A6"/><polygon points="1328.1,1566.7 1321.7,1617.5 1311.6,1642.9 1300.2,1672.0 1304.0,1679.7 1331.9,1682.2 1349.6,1649.2 1369.9,1579.4 1385.0,1567.0" fill="#C9B9A6"/><polygon points="1369.9,1579.4 1378.8,1606.1 1383.9,1621.3 1378.8,1667.0 1378.8,1682.2 1406.8,1684.7 1406.8,1667.0 1411.8,1613.7 1401.7,1568.0 1380.0,1567.0" fill="#C9B9A6"/><g clip-path="url(#cl8)"><ellipse cx="1301.6" cy="1554.0" rx="4.3" ry="3.3" transform="rotate(27 1301.6 1554.0)" fill="#DCCDBE"/><ellipse cx="1359.9" cy="1642.2" rx="3.1" ry="4.1" transform="rotate(10 1359.9 1642.2)" fill="#DCCDBE"/><ellipse cx="1315.4" cy="1616.3" rx="4.5" ry="2.5" transform="rotate(-24 1315.4 1616.3)" fill="#B5A08C"/><ellipse cx="1302.5" cy="1675.8" rx="4.3" ry="1.8" transform="rotate(-6 1302.5 1675.8)" fill="#A59C8E"/><ellipse cx="1366.8" cy="1573.8" rx="5.8" ry="2.5" transform="rotate(3 1366.8 1573.8)" fill="#E4D8CA"/><ellipse cx="1406.6" cy="1661.0" rx="4.1" ry="1.9" transform="rotate(18 1406.6 1661.0)" fill="#BBAE9C"/><ellipse cx="1342.2" cy="1550.2" rx="4.9" ry="2.5" transform="rotate(-17 1342.2 1550.2)" fill="#BBAE9C"/><ellipse cx="1389.1" cy="1644.9" rx="3.4" ry="3.1" transform="rotate(-1 1389.1 1644.9)" fill="#DCCDBE"/><ellipse cx="1329.6" cy="1580.7" rx="5.1" ry="2.7" transform="rotate(20 1329.6 1580.7)" fill="#E4D8CA"/><ellipse cx="1407.5" cy="1681.2" rx="7.0" ry="3.6" transform="rotate(24 1407.5 1681.2)" fill="#A59C8E"/><ellipse cx="1362.7" cy="1675.3" rx="6.3" ry="2.1" transform="rotate(-18 1362.7 1675.3)" fill="#DCCDBE"/><ellipse cx="1403.0" cy="1626.0" rx="5.6" ry="1.5" transform="rotate(-13 1403.0 1626.0)" fill="#948F84"/><ellipse cx="1334.3" cy="1661.0" rx="6.5" ry="1.6" transform="rotate(18 1334.3 1661.0)" fill="#DCCDBE"/><ellipse cx="1349.8" cy="1653.6" rx="5.0" ry="1.6" transform="rotate(22 1349.8 1653.6)" fill="#DCCDBE"/><ellipse cx="1371.3" cy="1678.9" rx="3.4" ry="1.7" transform="rotate(-21 1371.3 1678.9)" fill="#BBAE9C"/><ellipse cx="1306.7" cy="1627.5" rx="4.8" ry="3.8" transform="rotate(-1 1306.7 1627.5)" fill="#B5A08C"/><ellipse cx="1366.1" cy="1663.3" rx="4.7" ry="3.6" transform="rotate(12 1366.1 1663.3)" fill="#B5A08C"/><ellipse cx="1408.8" cy="1650.5" rx="3.6" ry="3.5" transform="rotate(-9 1408.8 1650.5)" fill="#948F84"/><ellipse cx="1301.4" cy="1592.7" rx="3.8" ry="1.8" transform="rotate(-22 1301.4 1592.7)" fill="#DCCDBE"/><ellipse cx="1363.5" cy="1627.9" rx="6.7" ry="3.9" transform="rotate(-18 1363.5 1627.9)" fill="#BBAE9C"/><ellipse cx="1391.8" cy="1581.5" rx="3.3" ry="2.6" transform="rotate(1 1391.8 1581.5)" fill="#E4D8CA"/><ellipse cx="1379.4" cy="1611.6" rx="3.5" ry="1.8" transform="rotate(-2 1379.4 1611.6)" fill="#B5A08C"/><ellipse cx="1380.2" cy="1606.2" rx="3.1" ry="1.6" transform="rotate(-9 1380.2 1606.2)" fill="#BBAE9C"/><ellipse cx="1321.6" cy="1580.6" rx="4.2" ry="3.5" transform="rotate(21 1321.6 1580.6)" fill="#DCCDBE"/><ellipse cx="1313.5" cy="1600.0" rx="3.1" ry="2.4" transform="rotate(-18 1313.5 1600.0)" fill="#A59C8E"/><ellipse cx="1399.6" cy="1582.7" rx="5.1" ry="4.0" transform="rotate(14 1399.6 1582.7)" fill="#A59C8E"/><ellipse cx="1392.5" cy="1542.4" rx="5.3" ry="3.9" transform="rotate(2 1392.5 1542.4)" fill="#A59C8E"/><ellipse cx="1348.7" cy="1640.9" rx="3.4" ry="1.3" transform="rotate(-7 1348.7 1640.9)" fill="#948F84"/><ellipse cx="1322.3" cy="1569.1" rx="4.1" ry="3.3" transform="rotate(-23 1322.3 1569.1)" fill="#A59C8E"/><ellipse cx="1324.3" cy="1680.2" rx="6.5" ry="3.3" transform="rotate(-3 1324.3 1680.2)" fill="#948F84"/><ellipse cx="1373.0" cy="1634.4" rx="4.4" ry="1.5" transform="rotate(-12 1373.0 1634.4)" fill="#DCCDBE"/><ellipse cx="1353.1" cy="1538.3" rx="2.5" ry="2.4" transform="rotate(-13 1353.1 1538.3)" fill="#BBAE9C"/><ellipse cx="1399.4" cy="1573.7" rx="3.9" ry="3.9" transform="rotate(-16 1399.4 1573.7)" fill="#DCCDBE"/><ellipse cx="1316.1" cy="1630.6" rx="6.0" ry="3.8" transform="rotate(4 1316.1 1630.6)" fill="#E4D8CA"/><ellipse cx="1321.1" cy="1592.4" rx="4.9" ry="4.0" transform="rotate(-2 1321.1 1592.4)" fill="#E4D8CA"/><ellipse cx="1405.1" cy="1575.7" rx="6.1" ry="2.4" transform="rotate(3 1405.1 1575.7)" fill="#DCCDBE"/><ellipse cx="1324.9" cy="1598.0" rx="6.2" ry="2.0" transform="rotate(-16 1324.9 1598.0)" fill="#E4D8CA"/><ellipse cx="1394.8" cy="1598.0" rx="6.6" ry="2.1" transform="rotate(18 1394.8 1598.0)" fill="#DCCDBE"/><ellipse cx="1307.1" cy="1574.0" rx="4.7" ry="4.2" transform="rotate(16 1307.1 1574.0)" fill="#DCCDBE"/><ellipse cx="1334.7" cy="1655.1" rx="6.7" ry="1.9" transform="rotate(-4 1334.7 1655.1)" fill="#BBAE9C"/><ellipse cx="1316.0" cy="1540.9" rx="6.1" ry="2.5" transform="rotate(16 1316.0 1540.9)" fill="#948F84"/><ellipse cx="1374.7" cy="1538.0" rx="5.6" ry="4.1" transform="rotate(-10 1374.7 1538.0)" fill="#E4D8CA"/><ellipse cx="1319.0" cy="1550.7" rx="6.4" ry="1.4" transform="rotate(-6 1319.0 1550.7)" fill="#B5A08C"/><ellipse cx="1397.3" cy="1628.6" rx="3.4" ry="1.9" transform="rotate(11 1397.3 1628.6)" fill="#DCCDBE"/><ellipse cx="1393.8" cy="1543.2" rx="5.8" ry="2.6" transform="rotate(-22 1393.8 1543.2)" fill="#948F84"/><ellipse cx="1407.9" cy="1653.3" rx="6.8" ry="2.8" transform="rotate(-4 1407.9 1653.3)" fill="#A59C8E"/><ellipse cx="1362.3" cy="1653.0" rx="4.5" ry="1.7" transform="rotate(-12 1362.3 1653.0)" fill="#B5A08C"/><ellipse cx="1379.3" cy="1566.4" rx="5.4" ry="2.6" transform="rotate(-10 1379.3 1566.4)" fill="#A59C8E"/><ellipse cx="1407.3" cy="1599.5" rx="3.9" ry="2.1" transform="rotate(19 1407.3 1599.5)" fill="#948F84"/><ellipse cx="1347.1" cy="1547.7" rx="5.4" ry="3.9" transform="rotate(24 1347.1 1547.7)" fill="#BBAE9C"/><ellipse cx="1319.1" cy="1648.5" rx="3.0" ry="3.6" transform="rotate(10 1319.1 1648.5)" fill="#A59C8E"/><ellipse cx="1350.5" cy="1566.4" rx="4.8" ry="2.2" transform="rotate(22 1350.5 1566.4)" fill="#B5A08C"/><ellipse cx="1353.4" cy="1558.6" rx="4.5" ry="1.7" transform="rotate(6 1353.4 1558.6)" fill="#A59C8E"/><ellipse cx="1335.2" cy="1662.1" rx="5.0" ry="3.5" transform="rotate(11 1335.2 1662.1)" fill="#DCCDBE"/><ellipse cx="1394.4" cy="1657.8" rx="5.6" ry="1.9" transform="rotate(6 1394.4 1657.8)" fill="#B5A08C"/><ellipse cx="1385.8" cy="1576.3" rx="5.0" ry="3.6" transform="rotate(-4 1385.8 1576.3)" fill="#B5A08C"/><ellipse cx="1335.7" cy="1626.7" rx="5.5" ry="3.5" transform="rotate(7 1335.7 1626.7)" fill="#E4D8CA"/><ellipse cx="1316.8" cy="1680.2" rx="4.6" ry="2.8" transform="rotate(13 1316.8 1680.2)" fill="#BBAE9C"/><ellipse cx="1382.8" cy="1600.2" rx="6.8" ry="1.8" transform="rotate(-22 1382.8 1600.2)" fill="#B5A08C"/><ellipse cx="1398.1" cy="1589.9" rx="4.3" ry="3.9" transform="rotate(-1 1398.1 1589.9)" fill="#BBAE9C"/><ellipse cx="1301.7" cy="1592.2" rx="5.9" ry="3.4" transform="rotate(21 1301.7 1592.2)" fill="#948F84"/><ellipse cx="1318.3" cy="1641.7" rx="5.8" ry="3.0" transform="rotate(27 1318.3 1641.7)" fill="#A59C8E"/><ellipse cx="1315.2" cy="1672.3" rx="5.9" ry="3.9" transform="rotate(-13 1315.2 1672.3)" fill="#B5A08C"/><ellipse cx="1319.0" cy="1551.9" rx="6.2" ry="3.8" transform="rotate(4 1319.0 1551.9)" fill="#A59C8E"/><ellipse cx="1326.8" cy="1592.0" rx="4.4" ry="2.8" transform="rotate(-6 1326.8 1592.0)" fill="#A59C8E"/><ellipse cx="1311.2" cy="1551.7" rx="3.2" ry="2.1" transform="rotate(-28 1311.2 1551.7)" fill="#E4D8CA"/><ellipse cx="1308.5" cy="1558.7" rx="6.9" ry="3.8" transform="rotate(14 1308.5 1558.7)" fill="#E4D8CA"/><ellipse cx="1311.5" cy="1573.6" rx="6.3" ry="4.1" transform="rotate(25 1311.5 1573.6)" fill="#948F84"/><ellipse cx="1340.3" cy="1598.3" rx="5.7" ry="3.9" transform="rotate(29 1340.3 1598.3)" fill="#DCCDBE"/><ellipse cx="1379.6" cy="1630.5" rx="3.6" ry="1.9" transform="rotate(-21 1379.6 1630.5)" fill="#DCCDBE"/><ellipse cx="1377.3" cy="1633.2" rx="3.0" ry="3.9" transform="rotate(-19 1377.3 1633.2)" fill="#E4D8CA"/><ellipse cx="1325.5" cy="1604.7" rx="3.8" ry="3.3" transform="rotate(-13 1325.5 1604.7)" fill="#DCCDBE"/><ellipse cx="1340.0" cy="1678.4" rx="3.7" ry="3.9" transform="rotate(13 1340.0 1678.4)" fill="#A59C8E"/><ellipse cx="1342.1" cy="1601.3" rx="5.1" ry="4.1" transform="rotate(-29 1342.1 1601.3)" fill="#DCCDBE"/><ellipse cx="1359.8" cy="1615.5" rx="5.2" ry="3.7" transform="rotate(-25 1359.8 1615.5)" fill="#948F84"/><ellipse cx="1366.5" cy="1624.0" rx="5.6" ry="3.5" transform="rotate(-1 1366.5 1624.0)" fill="#948F84"/><ellipse cx="1358.8" cy="1618.9" rx="2.5" ry="2.7" transform="rotate(29 1358.8 1618.9)" fill="#DCCDBE"/><ellipse cx="1405.5" cy="1579.0" rx="6.9" ry="2.1" transform="rotate(-15 1405.5 1579.0)" fill="#948F84"/><ellipse cx="1349.9" cy="1573.5" rx="3.3" ry="2.7" transform="rotate(-22 1349.9 1573.5)" fill="#DCCDBE"/><ellipse cx="1373.6" cy="1626.1" rx="3.7" ry="1.4" transform="rotate(12 1373.6 1626.1)" fill="#A59C8E"/><ellipse cx="1370.0" cy="1552.6" rx="6.5" ry="2.4" transform="rotate(10 1370.0 1552.6)" fill="#948F84"/><ellipse cx="1310.8" cy="1554.6" rx="4.8" ry="3.1" transform="rotate(16 1310.8 1554.6)" fill="#948F84"/><ellipse cx="1404.3" cy="1562.6" rx="4.0" ry="4.1" transform="rotate(-13 1404.3 1562.6)" fill="#B5A08C"/><ellipse cx="1330.5" cy="1556.1" rx="3.2" ry="2.9" transform="rotate(10 1330.5 1556.1)" fill="#DCCDBE"/><ellipse cx="1354.5" cy="1582.3" rx="4.5" ry="2.0" transform="rotate(-27 1354.5 1582.3)" fill="#E4D8CA"/><ellipse cx="1363.7" cy="1614.5" rx="2.8" ry="1.3" transform="rotate(-21 1363.7 1614.5)" fill="#DCCDBE"/><ellipse cx="1313.3" cy="1619.7" rx="2.9" ry="1.5" transform="rotate(-11 1313.3 1619.7)" fill="#DCCDBE"/><ellipse cx="1387.3" cy="1682.8" rx="4.0" ry="3.7" transform="rotate(19 1387.3 1682.8)" fill="#A59C8E"/><ellipse cx="1411.4" cy="1544.7" rx="3.2" ry="2.5" transform="rotate(30 1411.4 1544.7)" fill="#B5A08C"/><ellipse cx="1355.6" cy="1633.6" rx="6.0" ry="3.9" transform="rotate(1 1355.6 1633.6)" fill="#B5A08C"/></g>
<polygon points="1304.0,1682.2 1300.2,1706.3 1297.6,1715.2 1302.7,1722.8 1345.8,1726.6 1347.1,1720.3 1334.4,1712.7 1325.5,1703.8 1326.8,1682.2" fill="#B08B66" stroke="#6F5139" stroke-width="1.2"/>
<polygon points="1380.1,1683.5 1378.8,1710.1 1377.6,1717.7 1382.6,1724.1 1429.6,1725.4 1430.9,1719.0 1416.9,1712.7 1404.2,1706.3 1404.2,1684.7" fill="#B08B66" stroke="#6F5139" stroke-width="1.2"/>
<path d="M1316 1686 L1318 1704 L1336 1716 M1396 1686 L1398 1704 L1418 1716" stroke="#8C857A" stroke-width="3" fill="none"/>
<polygon points="1328.6,1491.0 1327.6,1535.5 1341.0,1539.6 1397.8,1539.6 1398.8,1521.0 1400.9,1498.3 1397.8,1467.3 1374.0,1457.0 1355.4,1452.8 1344.1,1455.9 1334.8,1462.1" fill="#43484B"/>
<rect x="1327.6" y="1519" width="71" height="19.5" fill="#565C60"/><rect x="1347.2" y="1523" width="28.9" height="8.3" fill="#6E4E33"/>
<g fill="#5C6266"><rect x="1377" y="1498" width="10" height="19"/><rect x="1388" y="1498" width="11" height="19"/></g>
<clipPath id="cl9"><polygon points="1334.8,1462.1 1330.7,1477.6 1330.7,1490.0 1338.9,1504.5 1353.4,1513.8 1372.0,1509.6 1399.8,1501.4 1411.2,1502.4 1425.7,1506.5 1440.1,1504.5 1450.4,1494.1 1457.7,1485.9 1461.8,1479.7 1453.5,1470.4 1446.3,1475.6 1429.8,1482.8 1421.5,1482.8 1402.9,1477.6 1395.7,1467.3 1388.5,1469.4 1377.1,1475.6 1369.9,1479.7 1363.7,1471.4 1355.4,1452.8 1344.1,1455.9"/></clipPath><polygon points="1334.8,1462.1 1330.7,1477.6 1330.7,1490.0 1338.9,1504.5 1353.4,1513.8 1372.0,1509.6 1399.8,1501.4 1411.2,1502.4 1425.7,1506.5 1440.1,1504.5 1450.4,1494.1 1457.7,1485.9 1461.8,1479.7 1453.5,1470.4 1446.3,1475.6 1429.8,1482.8 1421.5,1482.8 1402.9,1477.6 1395.7,1467.3 1388.5,1469.4 1377.1,1475.6 1369.9,1479.7 1363.7,1471.4 1355.4,1452.8 1344.1,1455.9" fill="#C9B9A6"/><g clip-path="url(#cl9)"><ellipse cx="1340.8" cy="1465.8" rx="3.9" ry="3.9" transform="rotate(-29 1340.8 1465.8)" fill="#948F84"/><ellipse cx="1335.8" cy="1472.6" rx="4.0" ry="1.4" transform="rotate(27 1335.8 1472.6)" fill="#E4D8CA"/><ellipse cx="1446.3" cy="1475.4" rx="2.5" ry="3.5" transform="rotate(1 1446.3 1475.4)" fill="#DCCDBE"/><ellipse cx="1394.3" cy="1500.0" rx="3.4" ry="2.1" transform="rotate(-3 1394.3 1500.0)" fill="#DCCDBE"/><ellipse cx="1374.5" cy="1454.9" rx="4.9" ry="3.4" transform="rotate(-29 1374.5 1454.9)" fill="#948F84"/><ellipse cx="1337.2" cy="1455.1" rx="4.1" ry="1.7" transform="rotate(14 1337.2 1455.1)" fill="#A59C8E"/><ellipse cx="1395.3" cy="1485.4" rx="6.2" ry="2.1" transform="rotate(5 1395.3 1485.4)" fill="#B5A08C"/><ellipse cx="1431.7" cy="1488.6" rx="3.5" ry="2.2" transform="rotate(10 1431.7 1488.6)" fill="#DCCDBE"/><ellipse cx="1441.0" cy="1470.4" rx="5.6" ry="3.6" transform="rotate(19 1441.0 1470.4)" fill="#DCCDBE"/><ellipse cx="1389.1" cy="1495.6" rx="2.9" ry="1.4" transform="rotate(-14 1389.1 1495.6)" fill="#E4D8CA"/><ellipse cx="1403.1" cy="1461.7" rx="2.8" ry="3.0" transform="rotate(-30 1403.1 1461.7)" fill="#948F84"/><ellipse cx="1455.5" cy="1494.8" rx="6.8" ry="2.7" transform="rotate(-15 1455.5 1494.8)" fill="#BBAE9C"/><ellipse cx="1373.0" cy="1487.6" rx="3.5" ry="2.4" transform="rotate(13 1373.0 1487.6)" fill="#B5A08C"/><ellipse cx="1356.3" cy="1504.6" rx="4.8" ry="3.0" transform="rotate(-9 1356.3 1504.6)" fill="#BBAE9C"/><ellipse cx="1379.3" cy="1490.7" rx="6.9" ry="2.7" transform="rotate(27 1379.3 1490.7)" fill="#DCCDBE"/><ellipse cx="1408.4" cy="1511.9" rx="6.0" ry="2.2" transform="rotate(25 1408.4 1511.9)" fill="#948F84"/><ellipse cx="1390.5" cy="1457.9" rx="3.9" ry="1.7" transform="rotate(-12 1390.5 1457.9)" fill="#A59C8E"/><ellipse cx="1450.9" cy="1483.4" rx="6.0" ry="1.6" transform="rotate(5 1450.9 1483.4)" fill="#E4D8CA"/><ellipse cx="1394.0" cy="1508.1" rx="4.2" ry="3.7" transform="rotate(6 1394.0 1508.1)" fill="#DCCDBE"/><ellipse cx="1445.0" cy="1506.7" rx="2.7" ry="3.0" transform="rotate(10 1445.0 1506.7)" fill="#DCCDBE"/><ellipse cx="1431.1" cy="1475.8" rx="3.0" ry="2.2" transform="rotate(29 1431.1 1475.8)" fill="#E4D8CA"/><ellipse cx="1360.9" cy="1479.8" rx="4.5" ry="3.9" transform="rotate(-2 1360.9 1479.8)" fill="#DCCDBE"/><ellipse cx="1441.6" cy="1453.8" rx="2.8" ry="2.3" transform="rotate(23 1441.6 1453.8)" fill="#E4D8CA"/><ellipse cx="1396.6" cy="1512.1" rx="6.4" ry="3.5" transform="rotate(-12 1396.6 1512.1)" fill="#DCCDBE"/><ellipse cx="1354.5" cy="1467.0" rx="6.1" ry="1.5" transform="rotate(29 1354.5 1467.0)" fill="#DCCDBE"/><ellipse cx="1363.1" cy="1472.2" rx="5.7" ry="2.7" transform="rotate(7 1363.1 1472.2)" fill="#DCCDBE"/><ellipse cx="1331.9" cy="1494.9" rx="2.6" ry="2.9" transform="rotate(15 1331.9 1494.9)" fill="#DCCDBE"/><ellipse cx="1354.0" cy="1458.1" rx="5.8" ry="4.0" transform="rotate(4 1354.0 1458.1)" fill="#948F84"/><ellipse cx="1337.7" cy="1492.0" rx="6.5" ry="2.6" transform="rotate(-18 1337.7 1492.0)" fill="#E4D8CA"/><ellipse cx="1356.6" cy="1458.2" rx="4.3" ry="1.9" transform="rotate(-28 1356.6 1458.2)" fill="#BBAE9C"/><ellipse cx="1389.1" cy="1486.6" rx="6.4" ry="3.2" transform="rotate(4 1389.1 1486.6)" fill="#BBAE9C"/><ellipse cx="1392.8" cy="1485.4" rx="3.1" ry="2.8" transform="rotate(17 1392.8 1485.4)" fill="#BBAE9C"/><ellipse cx="1348.8" cy="1511.7" rx="3.8" ry="4.1" transform="rotate(11 1348.8 1511.7)" fill="#E4D8CA"/><ellipse cx="1331.0" cy="1480.1" rx="3.2" ry="3.6" transform="rotate(-15 1331.0 1480.1)" fill="#948F84"/><ellipse cx="1410.6" cy="1453.1" rx="6.2" ry="3.3" transform="rotate(-26 1410.6 1453.1)" fill="#BBAE9C"/><ellipse cx="1459.5" cy="1471.2" rx="4.9" ry="2.7" transform="rotate(4 1459.5 1471.2)" fill="#948F84"/><ellipse cx="1404.6" cy="1502.1" rx="6.7" ry="2.0" transform="rotate(22 1404.6 1502.1)" fill="#E4D8CA"/><ellipse cx="1425.0" cy="1508.2" rx="4.1" ry="1.6" transform="rotate(-7 1425.0 1508.2)" fill="#A59C8E"/><ellipse cx="1356.6" cy="1494.6" rx="2.9" ry="4.1" transform="rotate(10 1356.6 1494.6)" fill="#DCCDBE"/><ellipse cx="1406.1" cy="1453.7" rx="5.0" ry="2.1" transform="rotate(-16 1406.1 1453.7)" fill="#DCCDBE"/><ellipse cx="1446.2" cy="1480.0" rx="4.4" ry="1.3" transform="rotate(11 1446.2 1480.0)" fill="#DCCDBE"/><ellipse cx="1445.0" cy="1495.2" rx="2.9" ry="3.1" transform="rotate(28 1445.0 1495.2)" fill="#A59C8E"/><ellipse cx="1356.6" cy="1494.8" rx="3.0" ry="3.4" transform="rotate(20 1356.6 1494.8)" fill="#DCCDBE"/><ellipse cx="1400.5" cy="1462.7" rx="6.1" ry="3.7" transform="rotate(-20 1400.5 1462.7)" fill="#E4D8CA"/><ellipse cx="1461.5" cy="1490.7" rx="3.3" ry="1.6" transform="rotate(3 1461.5 1490.7)" fill="#948F84"/><ellipse cx="1381.2" cy="1464.0" rx="3.8" ry="1.7" transform="rotate(3 1381.2 1464.0)" fill="#B5A08C"/><ellipse cx="1454.2" cy="1460.0" rx="6.3" ry="3.4" transform="rotate(-10 1454.2 1460.0)" fill="#A59C8E"/><ellipse cx="1399.5" cy="1508.5" rx="3.1" ry="2.7" transform="rotate(-4 1399.5 1508.5)" fill="#B5A08C"/><ellipse cx="1342.8" cy="1513.5" rx="5.7" ry="1.9" transform="rotate(-17 1342.8 1513.5)" fill="#948F84"/><ellipse cx="1430.1" cy="1460.2" rx="3.4" ry="2.6" transform="rotate(-9 1430.1 1460.2)" fill="#DCCDBE"/></g>
<polygon points="1360.6,1447.7 1398.8,1447.7 1398.8,1453.9 1384.4,1457.0 1363.7,1471.4 1360.6,1471.4" fill="#585B61"/>
<rect x="1397.8" y="1446.6" width="58.8" height="15.5" fill="#585B61"/>
<polygon points="1439.1,1457.0 1452.0,1457.0 1456.6,1490.0 1447.0,1492.1" fill="#44474C"/>
<rect x="1456.6" y="1449.7" width="85.8" height="4.2" fill="#585B61"/>
<rect x="1411.2" y="1434.2" width="47.5" height="6.2" rx="1.5" fill="#585B61"/><rect x="1426.7" y="1440" width="18.6" height="7.5" fill="#44474C"/>
<path d="M1498 1450 L1507.2 1441.5 L1509.3 1454" stroke="#585B61" stroke-width="1.8" fill="none"/>
<polygon points="1392.6,1467.3 1409.1,1462.1 1431.9,1465.2 1419.5,1473.5 1421.5,1477.6 1411.2,1485.9 1399.8,1485.9 1392.6,1475.6" fill="#55595D"/>
<polygon points="1454.6,1467.3 1458.7,1450.8 1464.9,1445.6 1483.5,1446.6 1487.6,1452.8 1475.2,1471.4 1464.9,1475.6 1454.6,1473.5" fill="#55595D"/>
<polygon points="1354.4,1440.4 1367.8,1442.5 1376.0,1457.0 1356.0,1454.0" fill="#5A4A3E"/>
<polygon points="1377.1,1434.2 1380.2,1430.1 1398.8,1429.1 1399.8,1438.4 1404.0,1441.5 1399.8,1444.6 1397.8,1454.9 1388.5,1457.0 1376.1,1448.7" fill="#F2C6A8"/>
<path d="M1380 1431 L1399 1432" stroke="#3A3A3A" stroke-width="2"/>
<clipPath id="cl10"><polygon points="1344.1,1432.2 1346.1,1418.8 1354.4,1407.4 1372.0,1400.2 1388.5,1403.3 1399.8,1412.6 1403.5,1421.9 1399.8,1428.0 1380.2,1430.1 1376.1,1436.3 1367.8,1442.5 1354.4,1440.4"/></clipPath><polygon points="1344.1,1432.2 1346.1,1418.8 1354.4,1407.4 1372.0,1400.2 1388.5,1403.3 1399.8,1412.6 1403.5,1421.9 1399.8,1428.0 1380.2,1430.1 1376.1,1436.3 1367.8,1442.5 1354.4,1440.4" fill="#A39A80"/><g clip-path="url(#cl10)"><ellipse cx="1378.0" cy="1426.9" rx="4.9" ry="1.6" transform="rotate(29 1378.0 1426.9)" fill="#C9C1A9"/><ellipse cx="1397.9" cy="1440.1" rx="3.1" ry="2.6" transform="rotate(-3 1397.9 1440.1)" fill="#6A695C"/><ellipse cx="1400.1" cy="1427.1" rx="3.1" ry="1.7" transform="rotate(24 1400.1 1427.1)" fill="#6A695C"/><ellipse cx="1388.2" cy="1436.6" rx="4.4" ry="2.9" transform="rotate(26 1388.2 1436.6)" fill="#8B8571"/><ellipse cx="1377.1" cy="1429.0" rx="2.4" ry="1.1" transform="rotate(30 1377.1 1429.0)" fill="#8B8571"/><ellipse cx="1402.9" cy="1403.0" rx="3.3" ry="2.5" transform="rotate(1 1402.9 1403.0)" fill="#C9C1A9"/><ellipse cx="1363.1" cy="1415.2" rx="4.3" ry="2.3" transform="rotate(-19 1363.1 1415.2)" fill="#6A695C"/><ellipse cx="1350.6" cy="1401.6" rx="5.1" ry="2.7" transform="rotate(-26 1350.6 1401.6)" fill="#6A695C"/><ellipse cx="1349.6" cy="1434.4" rx="2.0" ry="1.9" transform="rotate(-18 1349.6 1434.4)" fill="#8B8571"/><ellipse cx="1355.6" cy="1427.9" rx="3.6" ry="2.1" transform="rotate(5 1355.6 1427.9)" fill="#8B8571"/><ellipse cx="1371.1" cy="1436.6" rx="3.7" ry="1.0" transform="rotate(-7 1371.1 1436.6)" fill="#6A695C"/><ellipse cx="1390.5" cy="1404.9" rx="5.1" ry="1.0" transform="rotate(13 1390.5 1404.9)" fill="#6A695C"/><ellipse cx="1395.9" cy="1435.9" rx="5.0" ry="3.1" transform="rotate(-28 1395.9 1435.9)" fill="#6A695C"/><ellipse cx="1349.3" cy="1425.7" rx="4.6" ry="2.1" transform="rotate(27 1349.3 1425.7)" fill="#6A695C"/><ellipse cx="1368.2" cy="1420.2" rx="4.2" ry="2.7" transform="rotate(-29 1368.2 1420.2)" fill="#6A695C"/><ellipse cx="1367.7" cy="1434.2" rx="3.1" ry="1.2" transform="rotate(25 1367.7 1434.2)" fill="#C9C1A9"/><ellipse cx="1363.1" cy="1440.5" rx="5.2" ry="1.4" transform="rotate(20 1363.1 1440.5)" fill="#8B8571"/><ellipse cx="1369.9" cy="1434.4" rx="5.2" ry="3.0" transform="rotate(21 1369.9 1434.4)" fill="#6A695C"/><ellipse cx="1381.2" cy="1430.7" rx="2.8" ry="1.2" transform="rotate(21 1381.2 1430.7)" fill="#8B8571"/><ellipse cx="1348.7" cy="1405.2" rx="5.0" ry="1.5" transform="rotate(-26 1348.7 1405.2)" fill="#6A695C"/><ellipse cx="1384.5" cy="1400.7" rx="3.5" ry="2.2" transform="rotate(-30 1384.5 1400.7)" fill="#8B8571"/><ellipse cx="1399.9" cy="1417.7" rx="5.2" ry="2.9" transform="rotate(-3 1399.9 1417.7)" fill="#C9C1A9"/><ellipse cx="1390.5" cy="1425.1" rx="2.7" ry="2.3" transform="rotate(-10 1390.5 1425.1)" fill="#6A695C"/><ellipse cx="1349.4" cy="1438.0" rx="3.7" ry="1.7" transform="rotate(15 1349.4 1438.0)" fill="#6A695C"/></g>
</g>
<!-- range markers -->
<g stroke="#000" stroke-width="2.2" fill="none">
<path d="M915 1790.3 V1880.7 M915 1837.5 H2023.6 M2023.6 1790.3 V1880.7 M937.8 1803.5 L915.5 1837.5 L937.8 1868.3 M2001.4 1803.5 L2023 1837.5 L2001.4 1868.3"/>
<path d="M146.7 1937.7 V2028.7 M146.7 1985 H2902.5 M2902.5 1937.7 V2028.7 M169 1950.8 L147.2 1985 L169 2016.3 M2877.6 1950.8 L2902 1985 L2877.6 2014.3"/>
</g>
<text x="1333.6" y="1823.4" font-family="Liberation Sans" font-style="italic" font-size="52" textLength="271.5" lengthAdjust="spacingAndGlyphs" fill="#0A0A0A">Short Range</text>
<text x="1394.7" y="1970.5" font-family="Liberation Sans" font-style="italic" font-size="50" textLength="257.5" lengthAdjust="spacingAndGlyphs" fill="#0A0A0A">Long Range</text>
<!-- logo -->
<g>
<text x="2555.5" y="182.3" font-family="Liberation Serif" font-size="88" textLength="225" lengthAdjust="spacingAndGlyphs" fill="#2B3A67">Stratv</text>
<text x="2807.5" y="182.3" font-family="Liberation Serif" font-size="88" textLength="98.5" lengthAdjust="spacingAndGlyphs" fill="#2B3A67">ew</text>
<text x="2907.6" y="137.4" font-family="Liberation Sans" font-size="19" textLength="27" lengthAdjust="spacingAndGlyphs" fill="#2B3A67">TM</text>
<rect x="2774.4" y="106.4" width="9.3" height="24.8" fill="#F2B826"/>
<rect x="2787.9" y="90.9" width="10.3" height="40.3" fill="#EE8A1E"/>
<rect x="2803.3" y="97.1" width="10.4" height="32" fill="#E2452A"/>
<path d="M2822 76.7 A36.5 36.5 0 1 1 2811 67.5" stroke="#2A2A2A" stroke-width="9.5" fill="none"/>
<polygon points="2784,133 2803,133 2801.5,145 2787.5,145" fill="#2A2A2A"/>
<path d="M2787.5 144.5 L2801.5 144.5 L2801.5 178 Q2801.5 183 2796.5 183 L2792.5 183 Q2787.5 183 2787.5 178 Z" fill="#2B3A67"/>
<path d="M2766.5 102.5 L2792.8 76.7 L2809 82.8 L2841 47" stroke="#2B3A67" stroke-width="5" fill="none"/>
<path d="M2847 39 L2830.5 42.5 L2844.5 54.5 Z" fill="#2B3A67"/>
<text x="2747.6" y="237.6" font-family="Liberation Serif" font-weight="bold" font-size="61" textLength="245.8" lengthAdjust="spacingAndGlyphs" fill="#E03A2A">Research</text>
<text x="2662.9" y="276.8" font-family="Liberation Sans" font-style="italic" font-size="27.4" textLength="333.6" lengthAdjust="spacingAndGlyphs" fill="#283258">Strategic Insights Delivered</text>
</g>
</svg>
</body></html>
